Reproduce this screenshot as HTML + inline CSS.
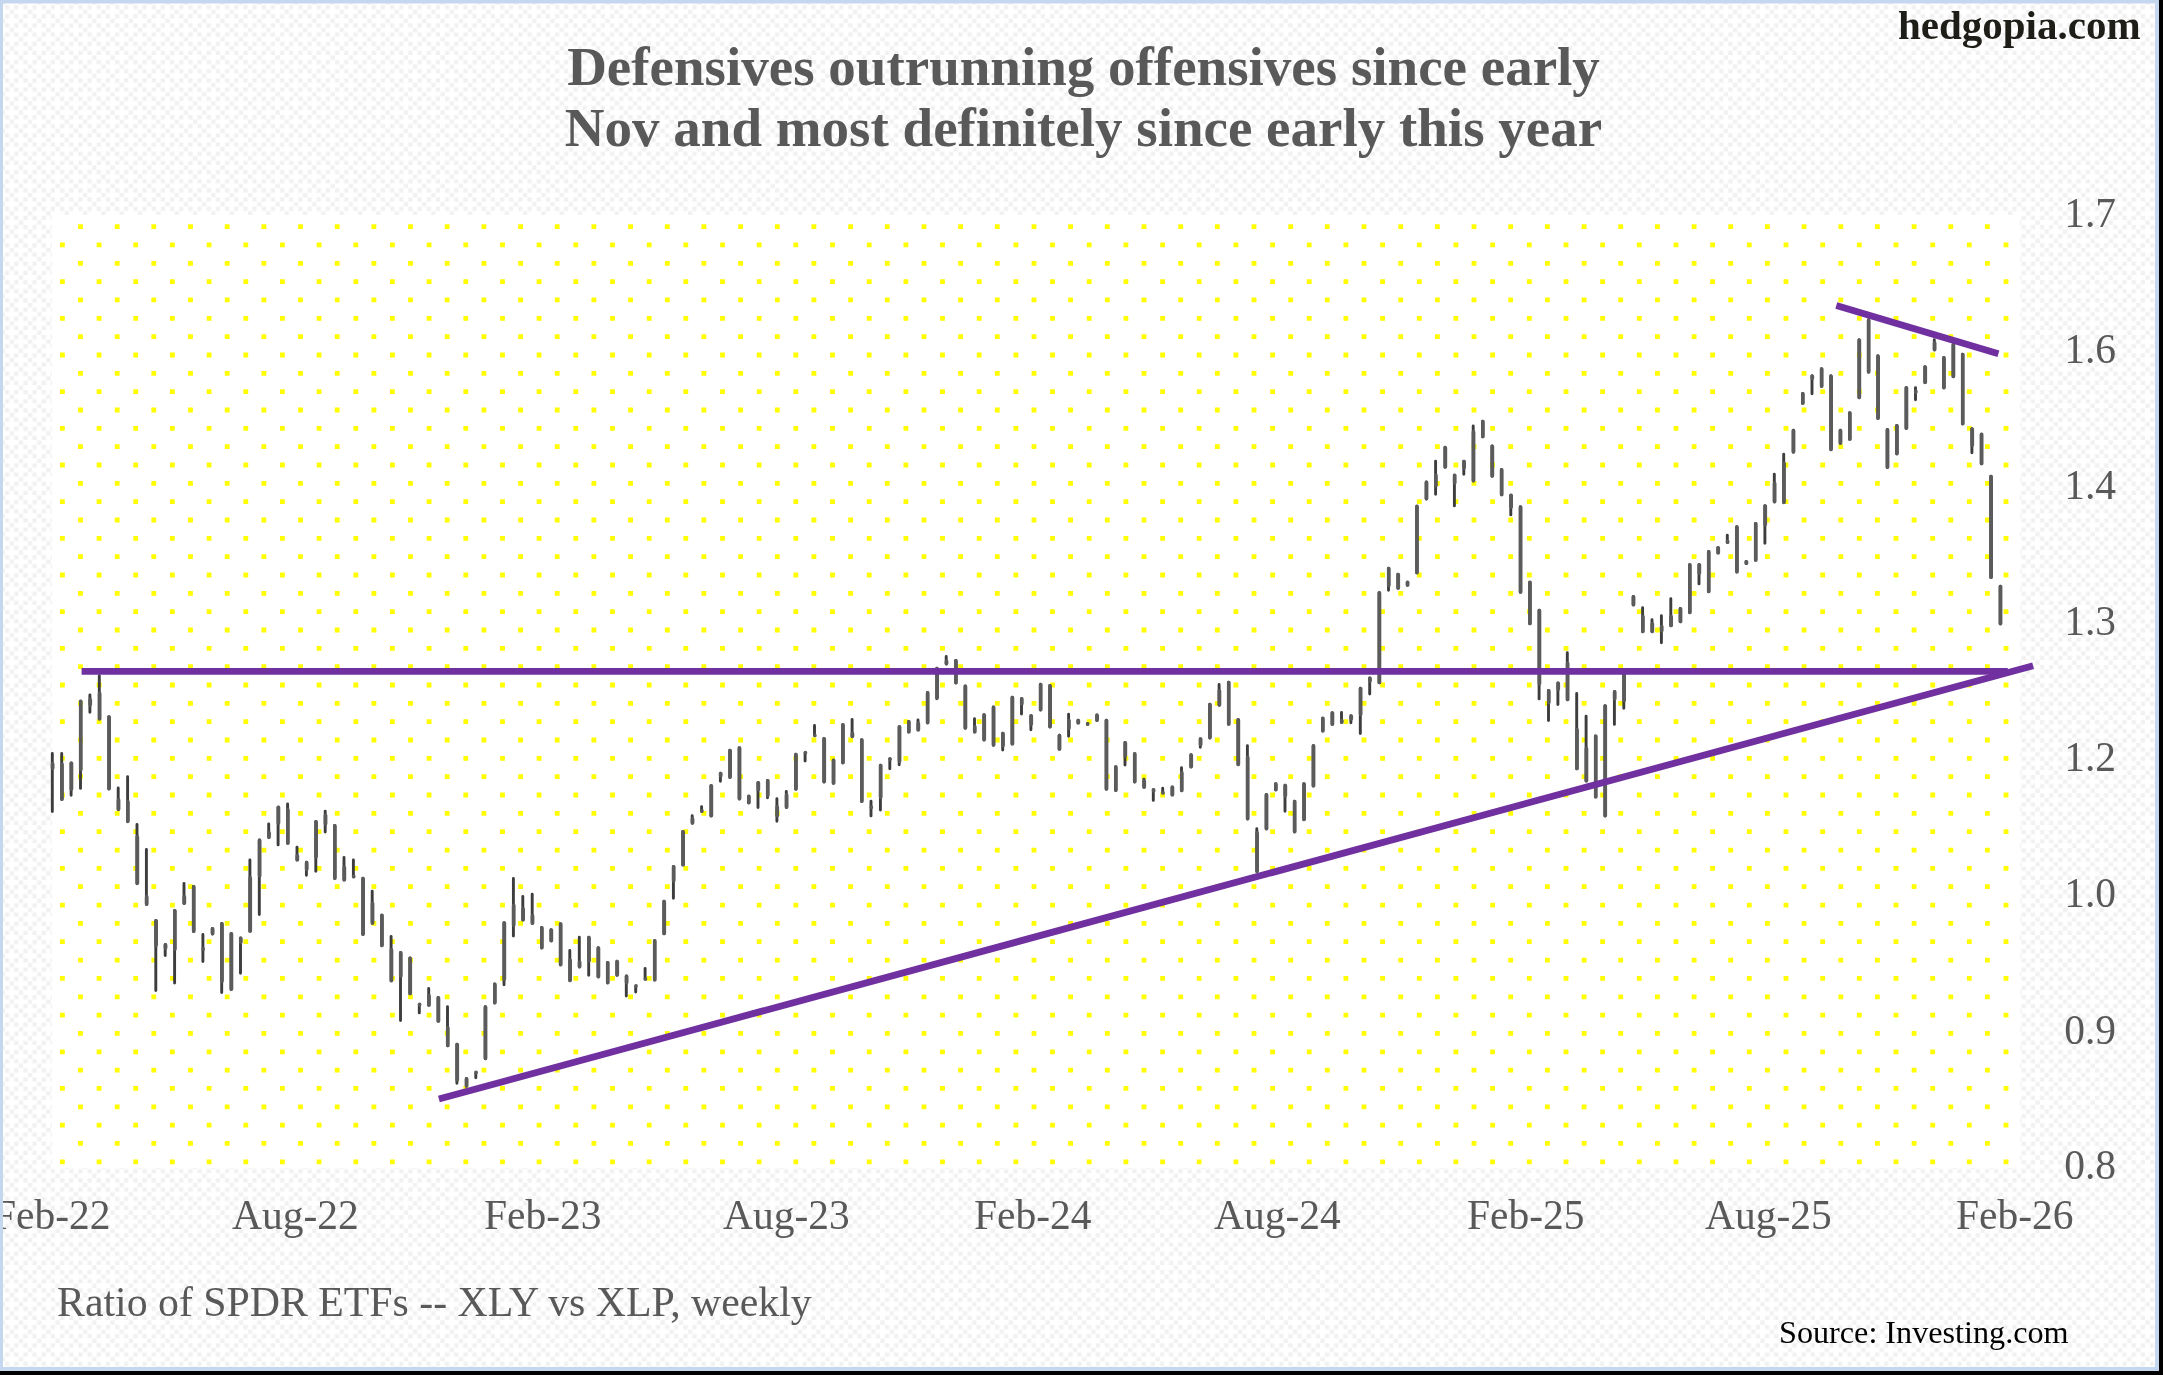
<!DOCTYPE html>
<html><head><meta charset="utf-8"><style>
html,body{margin:0;padding:0;background:#fff;}
svg{display:block;will-change:transform;}
text{font-family:"Liberation Serif",serif;}
</style></head><body>
<svg width="2163" height="1375" viewBox="0 0 2163 1375">
<defs>
<pattern id="chk" patternUnits="userSpaceOnUse" width="18.333" height="18.333">
<rect width="18.333" height="18.333" fill="#fff"/>
<g fill="#f1f1f1">
<rect x="5" y="5" width="4.3" height="4.3"/><rect x="14.17" y="5" width="4.3" height="4.3"/>
<rect x="5" y="14.17" width="4.3" height="4.3"/><rect x="14.17" y="14.17" width="4.3" height="4.3"/>
<rect x="9.58" y="9.58" width="4.3" height="4.3"/><rect x="0.42" y="0.42" width="4.3" height="4.3"/>
</g>
</pattern>
</defs>
<rect width="2163" height="1375" fill="url(#chk)"/>
<rect x="52" y="215" width="1968" height="953" fill="#fff"/>
<path fill="#ffff00" d="M78.1 224.2h4.8v4.8h-4.8zM114.8 224.2h4.8v4.8h-4.8zM151.4 224.2h4.8v4.8h-4.8zM188.1 224.2h4.8v4.8h-4.8zM224.8 224.2h4.8v4.8h-4.8zM261.5 224.2h4.8v4.8h-4.8zM298.1 224.2h4.8v4.8h-4.8zM334.8 224.2h4.8v4.8h-4.8zM371.5 224.2h4.8v4.8h-4.8zM408.1 224.2h4.8v4.8h-4.8zM444.8 224.2h4.8v4.8h-4.8zM481.5 224.2h4.8v4.8h-4.8zM518.2 224.2h4.8v4.8h-4.8zM554.8 224.2h4.8v4.8h-4.8zM591.5 224.2h4.8v4.8h-4.8zM628.2 224.2h4.8v4.8h-4.8zM664.9 224.2h4.8v4.8h-4.8zM701.5 224.2h4.8v4.8h-4.8zM738.2 224.2h4.8v4.8h-4.8zM774.9 224.2h4.8v4.8h-4.8zM811.5 224.2h4.8v4.8h-4.8zM848.2 224.2h4.8v4.8h-4.8zM884.9 224.2h4.8v4.8h-4.8zM921.6 224.2h4.8v4.8h-4.8zM958.2 224.2h4.8v4.8h-4.8zM994.9 224.2h4.8v4.8h-4.8zM1031.6 224.2h4.8v4.8h-4.8zM1068.2 224.2h4.8v4.8h-4.8zM1104.9 224.2h4.8v4.8h-4.8zM1141.6 224.2h4.8v4.8h-4.8zM1178.3 224.2h4.8v4.8h-4.8zM1214.9 224.2h4.8v4.8h-4.8zM1251.6 224.2h4.8v4.8h-4.8zM1288.3 224.2h4.8v4.8h-4.8zM1324.9 224.2h4.8v4.8h-4.8zM1361.6 224.2h4.8v4.8h-4.8zM1398.3 224.2h4.8v4.8h-4.8zM1435.0 224.2h4.8v4.8h-4.8zM1471.6 224.2h4.8v4.8h-4.8zM1508.3 224.2h4.8v4.8h-4.8zM1545.0 224.2h4.8v4.8h-4.8zM1581.7 224.2h4.8v4.8h-4.8zM1618.3 224.2h4.8v4.8h-4.8zM1655.0 224.2h4.8v4.8h-4.8zM1691.7 224.2h4.8v4.8h-4.8zM1728.3 224.2h4.8v4.8h-4.8zM1765.0 224.2h4.8v4.8h-4.8zM1801.7 224.2h4.8v4.8h-4.8zM1838.4 224.2h4.8v4.8h-4.8zM1875.0 224.2h4.8v4.8h-4.8zM1911.7 224.2h4.8v4.8h-4.8zM1948.4 224.2h4.8v4.8h-4.8zM1985.0 224.2h4.8v4.8h-4.8zM60.0 242.5h4.8v4.8h-4.8zM96.7 242.5h4.8v4.8h-4.8zM133.3 242.5h4.8v4.8h-4.8zM170.0 242.5h4.8v4.8h-4.8zM206.7 242.5h4.8v4.8h-4.8zM243.4 242.5h4.8v4.8h-4.8zM280.0 242.5h4.8v4.8h-4.8zM316.7 242.5h4.8v4.8h-4.8zM353.4 242.5h4.8v4.8h-4.8zM390.0 242.5h4.8v4.8h-4.8zM426.7 242.5h4.8v4.8h-4.8zM463.4 242.5h4.8v4.8h-4.8zM500.1 242.5h4.8v4.8h-4.8zM536.7 242.5h4.8v4.8h-4.8zM573.4 242.5h4.8v4.8h-4.8zM610.1 242.5h4.8v4.8h-4.8zM646.8 242.5h4.8v4.8h-4.8zM683.4 242.5h4.8v4.8h-4.8zM720.1 242.5h4.8v4.8h-4.8zM756.8 242.5h4.8v4.8h-4.8zM793.4 242.5h4.8v4.8h-4.8zM830.1 242.5h4.8v4.8h-4.8zM866.8 242.5h4.8v4.8h-4.8zM903.5 242.5h4.8v4.8h-4.8zM940.1 242.5h4.8v4.8h-4.8zM976.8 242.5h4.8v4.8h-4.8zM1013.5 242.5h4.8v4.8h-4.8zM1050.1 242.5h4.8v4.8h-4.8zM1086.8 242.5h4.8v4.8h-4.8zM1123.5 242.5h4.8v4.8h-4.8zM1160.2 242.5h4.8v4.8h-4.8zM1196.8 242.5h4.8v4.8h-4.8zM1233.5 242.5h4.8v4.8h-4.8zM1270.2 242.5h4.8v4.8h-4.8zM1306.8 242.5h4.8v4.8h-4.8zM1343.5 242.5h4.8v4.8h-4.8zM1380.2 242.5h4.8v4.8h-4.8zM1416.9 242.5h4.8v4.8h-4.8zM1453.5 242.5h4.8v4.8h-4.8zM1490.2 242.5h4.8v4.8h-4.8zM1526.9 242.5h4.8v4.8h-4.8zM1563.6 242.5h4.8v4.8h-4.8zM1600.2 242.5h4.8v4.8h-4.8zM1636.9 242.5h4.8v4.8h-4.8zM1673.6 242.5h4.8v4.8h-4.8zM1710.2 242.5h4.8v4.8h-4.8zM1746.9 242.5h4.8v4.8h-4.8zM1783.6 242.5h4.8v4.8h-4.8zM1820.3 242.5h4.8v4.8h-4.8zM1856.9 242.5h4.8v4.8h-4.8zM1893.6 242.5h4.8v4.8h-4.8zM1930.3 242.5h4.8v4.8h-4.8zM1966.9 242.5h4.8v4.8h-4.8zM2003.6 242.5h4.8v4.8h-4.8zM78.1 260.9h4.8v4.8h-4.8zM114.8 260.9h4.8v4.8h-4.8zM151.4 260.9h4.8v4.8h-4.8zM188.1 260.9h4.8v4.8h-4.8zM224.8 260.9h4.8v4.8h-4.8zM261.5 260.9h4.8v4.8h-4.8zM298.1 260.9h4.8v4.8h-4.8zM334.8 260.9h4.8v4.8h-4.8zM371.5 260.9h4.8v4.8h-4.8zM408.1 260.9h4.8v4.8h-4.8zM444.8 260.9h4.8v4.8h-4.8zM481.5 260.9h4.8v4.8h-4.8zM518.2 260.9h4.8v4.8h-4.8zM554.8 260.9h4.8v4.8h-4.8zM591.5 260.9h4.8v4.8h-4.8zM628.2 260.9h4.8v4.8h-4.8zM664.9 260.9h4.8v4.8h-4.8zM701.5 260.9h4.8v4.8h-4.8zM738.2 260.9h4.8v4.8h-4.8zM774.9 260.9h4.8v4.8h-4.8zM811.5 260.9h4.8v4.8h-4.8zM848.2 260.9h4.8v4.8h-4.8zM884.9 260.9h4.8v4.8h-4.8zM921.6 260.9h4.8v4.8h-4.8zM958.2 260.9h4.8v4.8h-4.8zM994.9 260.9h4.8v4.8h-4.8zM1031.6 260.9h4.8v4.8h-4.8zM1068.2 260.9h4.8v4.8h-4.8zM1104.9 260.9h4.8v4.8h-4.8zM1141.6 260.9h4.8v4.8h-4.8zM1178.3 260.9h4.8v4.8h-4.8zM1214.9 260.9h4.8v4.8h-4.8zM1251.6 260.9h4.8v4.8h-4.8zM1288.3 260.9h4.8v4.8h-4.8zM1324.9 260.9h4.8v4.8h-4.8zM1361.6 260.9h4.8v4.8h-4.8zM1398.3 260.9h4.8v4.8h-4.8zM1435.0 260.9h4.8v4.8h-4.8zM1471.6 260.9h4.8v4.8h-4.8zM1508.3 260.9h4.8v4.8h-4.8zM1545.0 260.9h4.8v4.8h-4.8zM1581.7 260.9h4.8v4.8h-4.8zM1618.3 260.9h4.8v4.8h-4.8zM1655.0 260.9h4.8v4.8h-4.8zM1691.7 260.9h4.8v4.8h-4.8zM1728.3 260.9h4.8v4.8h-4.8zM1765.0 260.9h4.8v4.8h-4.8zM1801.7 260.9h4.8v4.8h-4.8zM1838.4 260.9h4.8v4.8h-4.8zM1875.0 260.9h4.8v4.8h-4.8zM1911.7 260.9h4.8v4.8h-4.8zM1948.4 260.9h4.8v4.8h-4.8zM1985.0 260.9h4.8v4.8h-4.8zM60.0 279.2h4.8v4.8h-4.8zM96.7 279.2h4.8v4.8h-4.8zM133.3 279.2h4.8v4.8h-4.8zM170.0 279.2h4.8v4.8h-4.8zM206.7 279.2h4.8v4.8h-4.8zM243.4 279.2h4.8v4.8h-4.8zM280.0 279.2h4.8v4.8h-4.8zM316.7 279.2h4.8v4.8h-4.8zM353.4 279.2h4.8v4.8h-4.8zM390.0 279.2h4.8v4.8h-4.8zM426.7 279.2h4.8v4.8h-4.8zM463.4 279.2h4.8v4.8h-4.8zM500.1 279.2h4.8v4.8h-4.8zM536.7 279.2h4.8v4.8h-4.8zM573.4 279.2h4.8v4.8h-4.8zM610.1 279.2h4.8v4.8h-4.8zM646.8 279.2h4.8v4.8h-4.8zM683.4 279.2h4.8v4.8h-4.8zM720.1 279.2h4.8v4.8h-4.8zM756.8 279.2h4.8v4.8h-4.8zM793.4 279.2h4.8v4.8h-4.8zM830.1 279.2h4.8v4.8h-4.8zM866.8 279.2h4.8v4.8h-4.8zM903.5 279.2h4.8v4.8h-4.8zM940.1 279.2h4.8v4.8h-4.8zM976.8 279.2h4.8v4.8h-4.8zM1013.5 279.2h4.8v4.8h-4.8zM1050.1 279.2h4.8v4.8h-4.8zM1086.8 279.2h4.8v4.8h-4.8zM1123.5 279.2h4.8v4.8h-4.8zM1160.2 279.2h4.8v4.8h-4.8zM1196.8 279.2h4.8v4.8h-4.8zM1233.5 279.2h4.8v4.8h-4.8zM1270.2 279.2h4.8v4.8h-4.8zM1306.8 279.2h4.8v4.8h-4.8zM1343.5 279.2h4.8v4.8h-4.8zM1380.2 279.2h4.8v4.8h-4.8zM1416.9 279.2h4.8v4.8h-4.8zM1453.5 279.2h4.8v4.8h-4.8zM1490.2 279.2h4.8v4.8h-4.8zM1526.9 279.2h4.8v4.8h-4.8zM1563.6 279.2h4.8v4.8h-4.8zM1600.2 279.2h4.8v4.8h-4.8zM1636.9 279.2h4.8v4.8h-4.8zM1673.6 279.2h4.8v4.8h-4.8zM1710.2 279.2h4.8v4.8h-4.8zM1746.9 279.2h4.8v4.8h-4.8zM1783.6 279.2h4.8v4.8h-4.8zM1820.3 279.2h4.8v4.8h-4.8zM1856.9 279.2h4.8v4.8h-4.8zM1893.6 279.2h4.8v4.8h-4.8zM1930.3 279.2h4.8v4.8h-4.8zM1966.9 279.2h4.8v4.8h-4.8zM2003.6 279.2h4.8v4.8h-4.8zM78.1 297.5h4.8v4.8h-4.8zM114.8 297.5h4.8v4.8h-4.8zM151.4 297.5h4.8v4.8h-4.8zM188.1 297.5h4.8v4.8h-4.8zM224.8 297.5h4.8v4.8h-4.8zM261.5 297.5h4.8v4.8h-4.8zM298.1 297.5h4.8v4.8h-4.8zM334.8 297.5h4.8v4.8h-4.8zM371.5 297.5h4.8v4.8h-4.8zM408.1 297.5h4.8v4.8h-4.8zM444.8 297.5h4.8v4.8h-4.8zM481.5 297.5h4.8v4.8h-4.8zM518.2 297.5h4.8v4.8h-4.8zM554.8 297.5h4.8v4.8h-4.8zM591.5 297.5h4.8v4.8h-4.8zM628.2 297.5h4.8v4.8h-4.8zM664.9 297.5h4.8v4.8h-4.8zM701.5 297.5h4.8v4.8h-4.8zM738.2 297.5h4.8v4.8h-4.8zM774.9 297.5h4.8v4.8h-4.8zM811.5 297.5h4.8v4.8h-4.8zM848.2 297.5h4.8v4.8h-4.8zM884.9 297.5h4.8v4.8h-4.8zM921.6 297.5h4.8v4.8h-4.8zM958.2 297.5h4.8v4.8h-4.8zM994.9 297.5h4.8v4.8h-4.8zM1031.6 297.5h4.8v4.8h-4.8zM1068.2 297.5h4.8v4.8h-4.8zM1104.9 297.5h4.8v4.8h-4.8zM1141.6 297.5h4.8v4.8h-4.8zM1178.3 297.5h4.8v4.8h-4.8zM1214.9 297.5h4.8v4.8h-4.8zM1251.6 297.5h4.8v4.8h-4.8zM1288.3 297.5h4.8v4.8h-4.8zM1324.9 297.5h4.8v4.8h-4.8zM1361.6 297.5h4.8v4.8h-4.8zM1398.3 297.5h4.8v4.8h-4.8zM1435.0 297.5h4.8v4.8h-4.8zM1471.6 297.5h4.8v4.8h-4.8zM1508.3 297.5h4.8v4.8h-4.8zM1545.0 297.5h4.8v4.8h-4.8zM1581.7 297.5h4.8v4.8h-4.8zM1618.3 297.5h4.8v4.8h-4.8zM1655.0 297.5h4.8v4.8h-4.8zM1691.7 297.5h4.8v4.8h-4.8zM1728.3 297.5h4.8v4.8h-4.8zM1765.0 297.5h4.8v4.8h-4.8zM1801.7 297.5h4.8v4.8h-4.8zM1838.4 297.5h4.8v4.8h-4.8zM1875.0 297.5h4.8v4.8h-4.8zM1911.7 297.5h4.8v4.8h-4.8zM1948.4 297.5h4.8v4.8h-4.8zM1985.0 297.5h4.8v4.8h-4.8zM60.0 315.9h4.8v4.8h-4.8zM96.7 315.9h4.8v4.8h-4.8zM133.3 315.9h4.8v4.8h-4.8zM170.0 315.9h4.8v4.8h-4.8zM206.7 315.9h4.8v4.8h-4.8zM243.4 315.9h4.8v4.8h-4.8zM280.0 315.9h4.8v4.8h-4.8zM316.7 315.9h4.8v4.8h-4.8zM353.4 315.9h4.8v4.8h-4.8zM390.0 315.9h4.8v4.8h-4.8zM426.7 315.9h4.8v4.8h-4.8zM463.4 315.9h4.8v4.8h-4.8zM500.1 315.9h4.8v4.8h-4.8zM536.7 315.9h4.8v4.8h-4.8zM573.4 315.9h4.8v4.8h-4.8zM610.1 315.9h4.8v4.8h-4.8zM646.8 315.9h4.8v4.8h-4.8zM683.4 315.9h4.8v4.8h-4.8zM720.1 315.9h4.8v4.8h-4.8zM756.8 315.9h4.8v4.8h-4.8zM793.4 315.9h4.8v4.8h-4.8zM830.1 315.9h4.8v4.8h-4.8zM866.8 315.9h4.8v4.8h-4.8zM903.5 315.9h4.8v4.8h-4.8zM940.1 315.9h4.8v4.8h-4.8zM976.8 315.9h4.8v4.8h-4.8zM1013.5 315.9h4.8v4.8h-4.8zM1050.1 315.9h4.8v4.8h-4.8zM1086.8 315.9h4.8v4.8h-4.8zM1123.5 315.9h4.8v4.8h-4.8zM1160.2 315.9h4.8v4.8h-4.8zM1196.8 315.9h4.8v4.8h-4.8zM1233.5 315.9h4.8v4.8h-4.8zM1270.2 315.9h4.8v4.8h-4.8zM1306.8 315.9h4.8v4.8h-4.8zM1343.5 315.9h4.8v4.8h-4.8zM1380.2 315.9h4.8v4.8h-4.8zM1416.9 315.9h4.8v4.8h-4.8zM1453.5 315.9h4.8v4.8h-4.8zM1490.2 315.9h4.8v4.8h-4.8zM1526.9 315.9h4.8v4.8h-4.8zM1563.6 315.9h4.8v4.8h-4.8zM1600.2 315.9h4.8v4.8h-4.8zM1636.9 315.9h4.8v4.8h-4.8zM1673.6 315.9h4.8v4.8h-4.8zM1710.2 315.9h4.8v4.8h-4.8zM1746.9 315.9h4.8v4.8h-4.8zM1783.6 315.9h4.8v4.8h-4.8zM1820.3 315.9h4.8v4.8h-4.8zM1856.9 315.9h4.8v4.8h-4.8zM1893.6 315.9h4.8v4.8h-4.8zM1930.3 315.9h4.8v4.8h-4.8zM1966.9 315.9h4.8v4.8h-4.8zM2003.6 315.9h4.8v4.8h-4.8zM78.1 334.2h4.8v4.8h-4.8zM114.8 334.2h4.8v4.8h-4.8zM151.4 334.2h4.8v4.8h-4.8zM188.1 334.2h4.8v4.8h-4.8zM224.8 334.2h4.8v4.8h-4.8zM261.5 334.2h4.8v4.8h-4.8zM298.1 334.2h4.8v4.8h-4.8zM334.8 334.2h4.8v4.8h-4.8zM371.5 334.2h4.8v4.8h-4.8zM408.1 334.2h4.8v4.8h-4.8zM444.8 334.2h4.8v4.8h-4.8zM481.5 334.2h4.8v4.8h-4.8zM518.2 334.2h4.8v4.8h-4.8zM554.8 334.2h4.8v4.8h-4.8zM591.5 334.2h4.8v4.8h-4.8zM628.2 334.2h4.8v4.8h-4.8zM664.9 334.2h4.8v4.8h-4.8zM701.5 334.2h4.8v4.8h-4.8zM738.2 334.2h4.8v4.8h-4.8zM774.9 334.2h4.8v4.8h-4.8zM811.5 334.2h4.8v4.8h-4.8zM848.2 334.2h4.8v4.8h-4.8zM884.9 334.2h4.8v4.8h-4.8zM921.6 334.2h4.8v4.8h-4.8zM958.2 334.2h4.8v4.8h-4.8zM994.9 334.2h4.8v4.8h-4.8zM1031.6 334.2h4.8v4.8h-4.8zM1068.2 334.2h4.8v4.8h-4.8zM1104.9 334.2h4.8v4.8h-4.8zM1141.6 334.2h4.8v4.8h-4.8zM1178.3 334.2h4.8v4.8h-4.8zM1214.9 334.2h4.8v4.8h-4.8zM1251.6 334.2h4.8v4.8h-4.8zM1288.3 334.2h4.8v4.8h-4.8zM1324.9 334.2h4.8v4.8h-4.8zM1361.6 334.2h4.8v4.8h-4.8zM1398.3 334.2h4.8v4.8h-4.8zM1435.0 334.2h4.8v4.8h-4.8zM1471.6 334.2h4.8v4.8h-4.8zM1508.3 334.2h4.8v4.8h-4.8zM1545.0 334.2h4.8v4.8h-4.8zM1581.7 334.2h4.8v4.8h-4.8zM1618.3 334.2h4.8v4.8h-4.8zM1655.0 334.2h4.8v4.8h-4.8zM1691.7 334.2h4.8v4.8h-4.8zM1728.3 334.2h4.8v4.8h-4.8zM1765.0 334.2h4.8v4.8h-4.8zM1801.7 334.2h4.8v4.8h-4.8zM1838.4 334.2h4.8v4.8h-4.8zM1875.0 334.2h4.8v4.8h-4.8zM1911.7 334.2h4.8v4.8h-4.8zM1948.4 334.2h4.8v4.8h-4.8zM1985.0 334.2h4.8v4.8h-4.8zM60.0 352.6h4.8v4.8h-4.8zM96.7 352.6h4.8v4.8h-4.8zM133.3 352.6h4.8v4.8h-4.8zM170.0 352.6h4.8v4.8h-4.8zM206.7 352.6h4.8v4.8h-4.8zM243.4 352.6h4.8v4.8h-4.8zM280.0 352.6h4.8v4.8h-4.8zM316.7 352.6h4.8v4.8h-4.8zM353.4 352.6h4.8v4.8h-4.8zM390.0 352.6h4.8v4.8h-4.8zM426.7 352.6h4.8v4.8h-4.8zM463.4 352.6h4.8v4.8h-4.8zM500.1 352.6h4.8v4.8h-4.8zM536.7 352.6h4.8v4.8h-4.8zM573.4 352.6h4.8v4.8h-4.8zM610.1 352.6h4.8v4.8h-4.8zM646.8 352.6h4.8v4.8h-4.8zM683.4 352.6h4.8v4.8h-4.8zM720.1 352.6h4.8v4.8h-4.8zM756.8 352.6h4.8v4.8h-4.8zM793.4 352.6h4.8v4.8h-4.8zM830.1 352.6h4.8v4.8h-4.8zM866.8 352.6h4.8v4.8h-4.8zM903.5 352.6h4.8v4.8h-4.8zM940.1 352.6h4.8v4.8h-4.8zM976.8 352.6h4.8v4.8h-4.8zM1013.5 352.6h4.8v4.8h-4.8zM1050.1 352.6h4.8v4.8h-4.8zM1086.8 352.6h4.8v4.8h-4.8zM1123.5 352.6h4.8v4.8h-4.8zM1160.2 352.6h4.8v4.8h-4.8zM1196.8 352.6h4.8v4.8h-4.8zM1233.5 352.6h4.8v4.8h-4.8zM1270.2 352.6h4.8v4.8h-4.8zM1306.8 352.6h4.8v4.8h-4.8zM1343.5 352.6h4.8v4.8h-4.8zM1380.2 352.6h4.8v4.8h-4.8zM1416.9 352.6h4.8v4.8h-4.8zM1453.5 352.6h4.8v4.8h-4.8zM1490.2 352.6h4.8v4.8h-4.8zM1526.9 352.6h4.8v4.8h-4.8zM1563.6 352.6h4.8v4.8h-4.8zM1600.2 352.6h4.8v4.8h-4.8zM1636.9 352.6h4.8v4.8h-4.8zM1673.6 352.6h4.8v4.8h-4.8zM1710.2 352.6h4.8v4.8h-4.8zM1746.9 352.6h4.8v4.8h-4.8zM1783.6 352.6h4.8v4.8h-4.8zM1820.3 352.6h4.8v4.8h-4.8zM1856.9 352.6h4.8v4.8h-4.8zM1893.6 352.6h4.8v4.8h-4.8zM1930.3 352.6h4.8v4.8h-4.8zM1966.9 352.6h4.8v4.8h-4.8zM2003.6 352.6h4.8v4.8h-4.8zM78.1 370.9h4.8v4.8h-4.8zM114.8 370.9h4.8v4.8h-4.8zM151.4 370.9h4.8v4.8h-4.8zM188.1 370.9h4.8v4.8h-4.8zM224.8 370.9h4.8v4.8h-4.8zM261.5 370.9h4.8v4.8h-4.8zM298.1 370.9h4.8v4.8h-4.8zM334.8 370.9h4.8v4.8h-4.8zM371.5 370.9h4.8v4.8h-4.8zM408.1 370.9h4.8v4.8h-4.8zM444.8 370.9h4.8v4.8h-4.8zM481.5 370.9h4.8v4.8h-4.8zM518.2 370.9h4.8v4.8h-4.8zM554.8 370.9h4.8v4.8h-4.8zM591.5 370.9h4.8v4.8h-4.8zM628.2 370.9h4.8v4.8h-4.8zM664.9 370.9h4.8v4.8h-4.8zM701.5 370.9h4.8v4.8h-4.8zM738.2 370.9h4.8v4.8h-4.8zM774.9 370.9h4.8v4.8h-4.8zM811.5 370.9h4.8v4.8h-4.8zM848.2 370.9h4.8v4.8h-4.8zM884.9 370.9h4.8v4.8h-4.8zM921.6 370.9h4.8v4.8h-4.8zM958.2 370.9h4.8v4.8h-4.8zM994.9 370.9h4.8v4.8h-4.8zM1031.6 370.9h4.8v4.8h-4.8zM1068.2 370.9h4.8v4.8h-4.8zM1104.9 370.9h4.8v4.8h-4.8zM1141.6 370.9h4.8v4.8h-4.8zM1178.3 370.9h4.8v4.8h-4.8zM1214.9 370.9h4.8v4.8h-4.8zM1251.6 370.9h4.8v4.8h-4.8zM1288.3 370.9h4.8v4.8h-4.8zM1324.9 370.9h4.8v4.8h-4.8zM1361.6 370.9h4.8v4.8h-4.8zM1398.3 370.9h4.8v4.8h-4.8zM1435.0 370.9h4.8v4.8h-4.8zM1471.6 370.9h4.8v4.8h-4.8zM1508.3 370.9h4.8v4.8h-4.8zM1545.0 370.9h4.8v4.8h-4.8zM1581.7 370.9h4.8v4.8h-4.8zM1618.3 370.9h4.8v4.8h-4.8zM1655.0 370.9h4.8v4.8h-4.8zM1691.7 370.9h4.8v4.8h-4.8zM1728.3 370.9h4.8v4.8h-4.8zM1765.0 370.9h4.8v4.8h-4.8zM1801.7 370.9h4.8v4.8h-4.8zM1838.4 370.9h4.8v4.8h-4.8zM1875.0 370.9h4.8v4.8h-4.8zM1911.7 370.9h4.8v4.8h-4.8zM1948.4 370.9h4.8v4.8h-4.8zM1985.0 370.9h4.8v4.8h-4.8zM60.0 389.2h4.8v4.8h-4.8zM96.7 389.2h4.8v4.8h-4.8zM133.3 389.2h4.8v4.8h-4.8zM170.0 389.2h4.8v4.8h-4.8zM206.7 389.2h4.8v4.8h-4.8zM243.4 389.2h4.8v4.8h-4.8zM280.0 389.2h4.8v4.8h-4.8zM316.7 389.2h4.8v4.8h-4.8zM353.4 389.2h4.8v4.8h-4.8zM390.0 389.2h4.8v4.8h-4.8zM426.7 389.2h4.8v4.8h-4.8zM463.4 389.2h4.8v4.8h-4.8zM500.1 389.2h4.8v4.8h-4.8zM536.7 389.2h4.8v4.8h-4.8zM573.4 389.2h4.8v4.8h-4.8zM610.1 389.2h4.8v4.8h-4.8zM646.8 389.2h4.8v4.8h-4.8zM683.4 389.2h4.8v4.8h-4.8zM720.1 389.2h4.8v4.8h-4.8zM756.8 389.2h4.8v4.8h-4.8zM793.4 389.2h4.8v4.8h-4.8zM830.1 389.2h4.8v4.8h-4.8zM866.8 389.2h4.8v4.8h-4.8zM903.5 389.2h4.8v4.8h-4.8zM940.1 389.2h4.8v4.8h-4.8zM976.8 389.2h4.8v4.8h-4.8zM1013.5 389.2h4.8v4.8h-4.8zM1050.1 389.2h4.8v4.8h-4.8zM1086.8 389.2h4.8v4.8h-4.8zM1123.5 389.2h4.8v4.8h-4.8zM1160.2 389.2h4.8v4.8h-4.8zM1196.8 389.2h4.8v4.8h-4.8zM1233.5 389.2h4.8v4.8h-4.8zM1270.2 389.2h4.8v4.8h-4.8zM1306.8 389.2h4.8v4.8h-4.8zM1343.5 389.2h4.8v4.8h-4.8zM1380.2 389.2h4.8v4.8h-4.8zM1416.9 389.2h4.8v4.8h-4.8zM1453.5 389.2h4.8v4.8h-4.8zM1490.2 389.2h4.8v4.8h-4.8zM1526.9 389.2h4.8v4.8h-4.8zM1563.6 389.2h4.8v4.8h-4.8zM1600.2 389.2h4.8v4.8h-4.8zM1636.9 389.2h4.8v4.8h-4.8zM1673.6 389.2h4.8v4.8h-4.8zM1710.2 389.2h4.8v4.8h-4.8zM1746.9 389.2h4.8v4.8h-4.8zM1783.6 389.2h4.8v4.8h-4.8zM1820.3 389.2h4.8v4.8h-4.8zM1856.9 389.2h4.8v4.8h-4.8zM1893.6 389.2h4.8v4.8h-4.8zM1930.3 389.2h4.8v4.8h-4.8zM1966.9 389.2h4.8v4.8h-4.8zM2003.6 389.2h4.8v4.8h-4.8zM78.1 407.6h4.8v4.8h-4.8zM114.8 407.6h4.8v4.8h-4.8zM151.4 407.6h4.8v4.8h-4.8zM188.1 407.6h4.8v4.8h-4.8zM224.8 407.6h4.8v4.8h-4.8zM261.5 407.6h4.8v4.8h-4.8zM298.1 407.6h4.8v4.8h-4.8zM334.8 407.6h4.8v4.8h-4.8zM371.5 407.6h4.8v4.8h-4.8zM408.1 407.6h4.8v4.8h-4.8zM444.8 407.6h4.8v4.8h-4.8zM481.5 407.6h4.8v4.8h-4.8zM518.2 407.6h4.8v4.8h-4.8zM554.8 407.6h4.8v4.8h-4.8zM591.5 407.6h4.8v4.8h-4.8zM628.2 407.6h4.8v4.8h-4.8zM664.9 407.6h4.8v4.8h-4.8zM701.5 407.6h4.8v4.8h-4.8zM738.2 407.6h4.8v4.8h-4.8zM774.9 407.6h4.8v4.8h-4.8zM811.5 407.6h4.8v4.8h-4.8zM848.2 407.6h4.8v4.8h-4.8zM884.9 407.6h4.8v4.8h-4.8zM921.6 407.6h4.8v4.8h-4.8zM958.2 407.6h4.8v4.8h-4.8zM994.9 407.6h4.8v4.8h-4.8zM1031.6 407.6h4.8v4.8h-4.8zM1068.2 407.6h4.8v4.8h-4.8zM1104.9 407.6h4.8v4.8h-4.8zM1141.6 407.6h4.8v4.8h-4.8zM1178.3 407.6h4.8v4.8h-4.8zM1214.9 407.6h4.8v4.8h-4.8zM1251.6 407.6h4.8v4.8h-4.8zM1288.3 407.6h4.8v4.8h-4.8zM1324.9 407.6h4.8v4.8h-4.8zM1361.6 407.6h4.8v4.8h-4.8zM1398.3 407.6h4.8v4.8h-4.8zM1435.0 407.6h4.8v4.8h-4.8zM1471.6 407.6h4.8v4.8h-4.8zM1508.3 407.6h4.8v4.8h-4.8zM1545.0 407.6h4.8v4.8h-4.8zM1581.7 407.6h4.8v4.8h-4.8zM1618.3 407.6h4.8v4.8h-4.8zM1655.0 407.6h4.8v4.8h-4.8zM1691.7 407.6h4.8v4.8h-4.8zM1728.3 407.6h4.8v4.8h-4.8zM1765.0 407.6h4.8v4.8h-4.8zM1801.7 407.6h4.8v4.8h-4.8zM1838.4 407.6h4.8v4.8h-4.8zM1875.0 407.6h4.8v4.8h-4.8zM1911.7 407.6h4.8v4.8h-4.8zM1948.4 407.6h4.8v4.8h-4.8zM1985.0 407.6h4.8v4.8h-4.8zM60.0 425.9h4.8v4.8h-4.8zM96.7 425.9h4.8v4.8h-4.8zM133.3 425.9h4.8v4.8h-4.8zM170.0 425.9h4.8v4.8h-4.8zM206.7 425.9h4.8v4.8h-4.8zM243.4 425.9h4.8v4.8h-4.8zM280.0 425.9h4.8v4.8h-4.8zM316.7 425.9h4.8v4.8h-4.8zM353.4 425.9h4.8v4.8h-4.8zM390.0 425.9h4.8v4.8h-4.8zM426.7 425.9h4.8v4.8h-4.8zM463.4 425.9h4.8v4.8h-4.8zM500.1 425.9h4.8v4.8h-4.8zM536.7 425.9h4.8v4.8h-4.8zM573.4 425.9h4.8v4.8h-4.8zM610.1 425.9h4.8v4.8h-4.8zM646.8 425.9h4.8v4.8h-4.8zM683.4 425.9h4.8v4.8h-4.8zM720.1 425.9h4.8v4.8h-4.8zM756.8 425.9h4.8v4.8h-4.8zM793.4 425.9h4.8v4.8h-4.8zM830.1 425.9h4.8v4.8h-4.8zM866.8 425.9h4.8v4.8h-4.8zM903.5 425.9h4.8v4.8h-4.8zM940.1 425.9h4.8v4.8h-4.8zM976.8 425.9h4.8v4.8h-4.8zM1013.5 425.9h4.8v4.8h-4.8zM1050.1 425.9h4.8v4.8h-4.8zM1086.8 425.9h4.8v4.8h-4.8zM1123.5 425.9h4.8v4.8h-4.8zM1160.2 425.9h4.8v4.8h-4.8zM1196.8 425.9h4.8v4.8h-4.8zM1233.5 425.9h4.8v4.8h-4.8zM1270.2 425.9h4.8v4.8h-4.8zM1306.8 425.9h4.8v4.8h-4.8zM1343.5 425.9h4.8v4.8h-4.8zM1380.2 425.9h4.8v4.8h-4.8zM1416.9 425.9h4.8v4.8h-4.8zM1453.5 425.9h4.8v4.8h-4.8zM1490.2 425.9h4.8v4.8h-4.8zM1526.9 425.9h4.8v4.8h-4.8zM1563.6 425.9h4.8v4.8h-4.8zM1600.2 425.9h4.8v4.8h-4.8zM1636.9 425.9h4.8v4.8h-4.8zM1673.6 425.9h4.8v4.8h-4.8zM1710.2 425.9h4.8v4.8h-4.8zM1746.9 425.9h4.8v4.8h-4.8zM1783.6 425.9h4.8v4.8h-4.8zM1820.3 425.9h4.8v4.8h-4.8zM1856.9 425.9h4.8v4.8h-4.8zM1893.6 425.9h4.8v4.8h-4.8zM1930.3 425.9h4.8v4.8h-4.8zM1966.9 425.9h4.8v4.8h-4.8zM2003.6 425.9h4.8v4.8h-4.8zM78.1 444.2h4.8v4.8h-4.8zM114.8 444.2h4.8v4.8h-4.8zM151.4 444.2h4.8v4.8h-4.8zM188.1 444.2h4.8v4.8h-4.8zM224.8 444.2h4.8v4.8h-4.8zM261.5 444.2h4.8v4.8h-4.8zM298.1 444.2h4.8v4.8h-4.8zM334.8 444.2h4.8v4.8h-4.8zM371.5 444.2h4.8v4.8h-4.8zM408.1 444.2h4.8v4.8h-4.8zM444.8 444.2h4.8v4.8h-4.8zM481.5 444.2h4.8v4.8h-4.8zM518.2 444.2h4.8v4.8h-4.8zM554.8 444.2h4.8v4.8h-4.8zM591.5 444.2h4.8v4.8h-4.8zM628.2 444.2h4.8v4.8h-4.8zM664.9 444.2h4.8v4.8h-4.8zM701.5 444.2h4.8v4.8h-4.8zM738.2 444.2h4.8v4.8h-4.8zM774.9 444.2h4.8v4.8h-4.8zM811.5 444.2h4.8v4.8h-4.8zM848.2 444.2h4.8v4.8h-4.8zM884.9 444.2h4.8v4.8h-4.8zM921.6 444.2h4.8v4.8h-4.8zM958.2 444.2h4.8v4.8h-4.8zM994.9 444.2h4.8v4.8h-4.8zM1031.6 444.2h4.8v4.8h-4.8zM1068.2 444.2h4.8v4.8h-4.8zM1104.9 444.2h4.8v4.8h-4.8zM1141.6 444.2h4.8v4.8h-4.8zM1178.3 444.2h4.8v4.8h-4.8zM1214.9 444.2h4.8v4.8h-4.8zM1251.6 444.2h4.8v4.8h-4.8zM1288.3 444.2h4.8v4.8h-4.8zM1324.9 444.2h4.8v4.8h-4.8zM1361.6 444.2h4.8v4.8h-4.8zM1398.3 444.2h4.8v4.8h-4.8zM1435.0 444.2h4.8v4.8h-4.8zM1471.6 444.2h4.8v4.8h-4.8zM1508.3 444.2h4.8v4.8h-4.8zM1545.0 444.2h4.8v4.8h-4.8zM1581.7 444.2h4.8v4.8h-4.8zM1618.3 444.2h4.8v4.8h-4.8zM1655.0 444.2h4.8v4.8h-4.8zM1691.7 444.2h4.8v4.8h-4.8zM1728.3 444.2h4.8v4.8h-4.8zM1765.0 444.2h4.8v4.8h-4.8zM1801.7 444.2h4.8v4.8h-4.8zM1838.4 444.2h4.8v4.8h-4.8zM1875.0 444.2h4.8v4.8h-4.8zM1911.7 444.2h4.8v4.8h-4.8zM1948.4 444.2h4.8v4.8h-4.8zM1985.0 444.2h4.8v4.8h-4.8zM60.0 462.6h4.8v4.8h-4.8zM96.7 462.6h4.8v4.8h-4.8zM133.3 462.6h4.8v4.8h-4.8zM170.0 462.6h4.8v4.8h-4.8zM206.7 462.6h4.8v4.8h-4.8zM243.4 462.6h4.8v4.8h-4.8zM280.0 462.6h4.8v4.8h-4.8zM316.7 462.6h4.8v4.8h-4.8zM353.4 462.6h4.8v4.8h-4.8zM390.0 462.6h4.8v4.8h-4.8zM426.7 462.6h4.8v4.8h-4.8zM463.4 462.6h4.8v4.8h-4.8zM500.1 462.6h4.8v4.8h-4.8zM536.7 462.6h4.8v4.8h-4.8zM573.4 462.6h4.8v4.8h-4.8zM610.1 462.6h4.8v4.8h-4.8zM646.8 462.6h4.8v4.8h-4.8zM683.4 462.6h4.8v4.8h-4.8zM720.1 462.6h4.8v4.8h-4.8zM756.8 462.6h4.8v4.8h-4.8zM793.4 462.6h4.8v4.8h-4.8zM830.1 462.6h4.8v4.8h-4.8zM866.8 462.6h4.8v4.8h-4.8zM903.5 462.6h4.8v4.8h-4.8zM940.1 462.6h4.8v4.8h-4.8zM976.8 462.6h4.8v4.8h-4.8zM1013.5 462.6h4.8v4.8h-4.8zM1050.1 462.6h4.8v4.8h-4.8zM1086.8 462.6h4.8v4.8h-4.8zM1123.5 462.6h4.8v4.8h-4.8zM1160.2 462.6h4.8v4.8h-4.8zM1196.8 462.6h4.8v4.8h-4.8zM1233.5 462.6h4.8v4.8h-4.8zM1270.2 462.6h4.8v4.8h-4.8zM1306.8 462.6h4.8v4.8h-4.8zM1343.5 462.6h4.8v4.8h-4.8zM1380.2 462.6h4.8v4.8h-4.8zM1416.9 462.6h4.8v4.8h-4.8zM1453.5 462.6h4.8v4.8h-4.8zM1490.2 462.6h4.8v4.8h-4.8zM1526.9 462.6h4.8v4.8h-4.8zM1563.6 462.6h4.8v4.8h-4.8zM1600.2 462.6h4.8v4.8h-4.8zM1636.9 462.6h4.8v4.8h-4.8zM1673.6 462.6h4.8v4.8h-4.8zM1710.2 462.6h4.8v4.8h-4.8zM1746.9 462.6h4.8v4.8h-4.8zM1783.6 462.6h4.8v4.8h-4.8zM1820.3 462.6h4.8v4.8h-4.8zM1856.9 462.6h4.8v4.8h-4.8zM1893.6 462.6h4.8v4.8h-4.8zM1930.3 462.6h4.8v4.8h-4.8zM1966.9 462.6h4.8v4.8h-4.8zM2003.6 462.6h4.8v4.8h-4.8zM78.1 480.9h4.8v4.8h-4.8zM114.8 480.9h4.8v4.8h-4.8zM151.4 480.9h4.8v4.8h-4.8zM188.1 480.9h4.8v4.8h-4.8zM224.8 480.9h4.8v4.8h-4.8zM261.5 480.9h4.8v4.8h-4.8zM298.1 480.9h4.8v4.8h-4.8zM334.8 480.9h4.8v4.8h-4.8zM371.5 480.9h4.8v4.8h-4.8zM408.1 480.9h4.8v4.8h-4.8zM444.8 480.9h4.8v4.8h-4.8zM481.5 480.9h4.8v4.8h-4.8zM518.2 480.9h4.8v4.8h-4.8zM554.8 480.9h4.8v4.8h-4.8zM591.5 480.9h4.8v4.8h-4.8zM628.2 480.9h4.8v4.8h-4.8zM664.9 480.9h4.8v4.8h-4.8zM701.5 480.9h4.8v4.8h-4.8zM738.2 480.9h4.8v4.8h-4.8zM774.9 480.9h4.8v4.8h-4.8zM811.5 480.9h4.8v4.8h-4.8zM848.2 480.9h4.8v4.8h-4.8zM884.9 480.9h4.8v4.8h-4.8zM921.6 480.9h4.8v4.8h-4.8zM958.2 480.9h4.8v4.8h-4.8zM994.9 480.9h4.8v4.8h-4.8zM1031.6 480.9h4.8v4.8h-4.8zM1068.2 480.9h4.8v4.8h-4.8zM1104.9 480.9h4.8v4.8h-4.8zM1141.6 480.9h4.8v4.8h-4.8zM1178.3 480.9h4.8v4.8h-4.8zM1214.9 480.9h4.8v4.8h-4.8zM1251.6 480.9h4.8v4.8h-4.8zM1288.3 480.9h4.8v4.8h-4.8zM1324.9 480.9h4.8v4.8h-4.8zM1361.6 480.9h4.8v4.8h-4.8zM1398.3 480.9h4.8v4.8h-4.8zM1435.0 480.9h4.8v4.8h-4.8zM1471.6 480.9h4.8v4.8h-4.8zM1508.3 480.9h4.8v4.8h-4.8zM1545.0 480.9h4.8v4.8h-4.8zM1581.7 480.9h4.8v4.8h-4.8zM1618.3 480.9h4.8v4.8h-4.8zM1655.0 480.9h4.8v4.8h-4.8zM1691.7 480.9h4.8v4.8h-4.8zM1728.3 480.9h4.8v4.8h-4.8zM1765.0 480.9h4.8v4.8h-4.8zM1801.7 480.9h4.8v4.8h-4.8zM1838.4 480.9h4.8v4.8h-4.8zM1875.0 480.9h4.8v4.8h-4.8zM1911.7 480.9h4.8v4.8h-4.8zM1948.4 480.9h4.8v4.8h-4.8zM1985.0 480.9h4.8v4.8h-4.8zM60.0 499.3h4.8v4.8h-4.8zM96.7 499.3h4.8v4.8h-4.8zM133.3 499.3h4.8v4.8h-4.8zM170.0 499.3h4.8v4.8h-4.8zM206.7 499.3h4.8v4.8h-4.8zM243.4 499.3h4.8v4.8h-4.8zM280.0 499.3h4.8v4.8h-4.8zM316.7 499.3h4.8v4.8h-4.8zM353.4 499.3h4.8v4.8h-4.8zM390.0 499.3h4.8v4.8h-4.8zM426.7 499.3h4.8v4.8h-4.8zM463.4 499.3h4.8v4.8h-4.8zM500.1 499.3h4.8v4.8h-4.8zM536.7 499.3h4.8v4.8h-4.8zM573.4 499.3h4.8v4.8h-4.8zM610.1 499.3h4.8v4.8h-4.8zM646.8 499.3h4.8v4.8h-4.8zM683.4 499.3h4.8v4.8h-4.8zM720.1 499.3h4.8v4.8h-4.8zM756.8 499.3h4.8v4.8h-4.8zM793.4 499.3h4.8v4.8h-4.8zM830.1 499.3h4.8v4.8h-4.8zM866.8 499.3h4.8v4.8h-4.8zM903.5 499.3h4.8v4.8h-4.8zM940.1 499.3h4.8v4.8h-4.8zM976.8 499.3h4.8v4.8h-4.8zM1013.5 499.3h4.8v4.8h-4.8zM1050.1 499.3h4.8v4.8h-4.8zM1086.8 499.3h4.8v4.8h-4.8zM1123.5 499.3h4.8v4.8h-4.8zM1160.2 499.3h4.8v4.8h-4.8zM1196.8 499.3h4.8v4.8h-4.8zM1233.5 499.3h4.8v4.8h-4.8zM1270.2 499.3h4.8v4.8h-4.8zM1306.8 499.3h4.8v4.8h-4.8zM1343.5 499.3h4.8v4.8h-4.8zM1380.2 499.3h4.8v4.8h-4.8zM1416.9 499.3h4.8v4.8h-4.8zM1453.5 499.3h4.8v4.8h-4.8zM1490.2 499.3h4.8v4.8h-4.8zM1526.9 499.3h4.8v4.8h-4.8zM1563.6 499.3h4.8v4.8h-4.8zM1600.2 499.3h4.8v4.8h-4.8zM1636.9 499.3h4.8v4.8h-4.8zM1673.6 499.3h4.8v4.8h-4.8zM1710.2 499.3h4.8v4.8h-4.8zM1746.9 499.3h4.8v4.8h-4.8zM1783.6 499.3h4.8v4.8h-4.8zM1820.3 499.3h4.8v4.8h-4.8zM1856.9 499.3h4.8v4.8h-4.8zM1893.6 499.3h4.8v4.8h-4.8zM1930.3 499.3h4.8v4.8h-4.8zM1966.9 499.3h4.8v4.8h-4.8zM2003.6 499.3h4.8v4.8h-4.8zM78.1 517.6h4.8v4.8h-4.8zM114.8 517.6h4.8v4.8h-4.8zM151.4 517.6h4.8v4.8h-4.8zM188.1 517.6h4.8v4.8h-4.8zM224.8 517.6h4.8v4.8h-4.8zM261.5 517.6h4.8v4.8h-4.8zM298.1 517.6h4.8v4.8h-4.8zM334.8 517.6h4.8v4.8h-4.8zM371.5 517.6h4.8v4.8h-4.8zM408.1 517.6h4.8v4.8h-4.8zM444.8 517.6h4.8v4.8h-4.8zM481.5 517.6h4.8v4.8h-4.8zM518.2 517.6h4.8v4.8h-4.8zM554.8 517.6h4.8v4.8h-4.8zM591.5 517.6h4.8v4.8h-4.8zM628.2 517.6h4.8v4.8h-4.8zM664.9 517.6h4.8v4.8h-4.8zM701.5 517.6h4.8v4.8h-4.8zM738.2 517.6h4.8v4.8h-4.8zM774.9 517.6h4.8v4.8h-4.8zM811.5 517.6h4.8v4.8h-4.8zM848.2 517.6h4.8v4.8h-4.8zM884.9 517.6h4.8v4.8h-4.8zM921.6 517.6h4.8v4.8h-4.8zM958.2 517.6h4.8v4.8h-4.8zM994.9 517.6h4.8v4.8h-4.8zM1031.6 517.6h4.8v4.8h-4.8zM1068.2 517.6h4.8v4.8h-4.8zM1104.9 517.6h4.8v4.8h-4.8zM1141.6 517.6h4.8v4.8h-4.8zM1178.3 517.6h4.8v4.8h-4.8zM1214.9 517.6h4.8v4.8h-4.8zM1251.6 517.6h4.8v4.8h-4.8zM1288.3 517.6h4.8v4.8h-4.8zM1324.9 517.6h4.8v4.8h-4.8zM1361.6 517.6h4.8v4.8h-4.8zM1398.3 517.6h4.8v4.8h-4.8zM1435.0 517.6h4.8v4.8h-4.8zM1471.6 517.6h4.8v4.8h-4.8zM1508.3 517.6h4.8v4.8h-4.8zM1545.0 517.6h4.8v4.8h-4.8zM1581.7 517.6h4.8v4.8h-4.8zM1618.3 517.6h4.8v4.8h-4.8zM1655.0 517.6h4.8v4.8h-4.8zM1691.7 517.6h4.8v4.8h-4.8zM1728.3 517.6h4.8v4.8h-4.8zM1765.0 517.6h4.8v4.8h-4.8zM1801.7 517.6h4.8v4.8h-4.8zM1838.4 517.6h4.8v4.8h-4.8zM1875.0 517.6h4.8v4.8h-4.8zM1911.7 517.6h4.8v4.8h-4.8zM1948.4 517.6h4.8v4.8h-4.8zM1985.0 517.6h4.8v4.8h-4.8zM60.0 535.9h4.8v4.8h-4.8zM96.7 535.9h4.8v4.8h-4.8zM133.3 535.9h4.8v4.8h-4.8zM170.0 535.9h4.8v4.8h-4.8zM206.7 535.9h4.8v4.8h-4.8zM243.4 535.9h4.8v4.8h-4.8zM280.0 535.9h4.8v4.8h-4.8zM316.7 535.9h4.8v4.8h-4.8zM353.4 535.9h4.8v4.8h-4.8zM390.0 535.9h4.8v4.8h-4.8zM426.7 535.9h4.8v4.8h-4.8zM463.4 535.9h4.8v4.8h-4.8zM500.1 535.9h4.8v4.8h-4.8zM536.7 535.9h4.8v4.8h-4.8zM573.4 535.9h4.8v4.8h-4.8zM610.1 535.9h4.8v4.8h-4.8zM646.8 535.9h4.8v4.8h-4.8zM683.4 535.9h4.8v4.8h-4.8zM720.1 535.9h4.8v4.8h-4.8zM756.8 535.9h4.8v4.8h-4.8zM793.4 535.9h4.8v4.8h-4.8zM830.1 535.9h4.8v4.8h-4.8zM866.8 535.9h4.8v4.8h-4.8zM903.5 535.9h4.8v4.8h-4.8zM940.1 535.9h4.8v4.8h-4.8zM976.8 535.9h4.8v4.8h-4.8zM1013.5 535.9h4.8v4.8h-4.8zM1050.1 535.9h4.8v4.8h-4.8zM1086.8 535.9h4.8v4.8h-4.8zM1123.5 535.9h4.8v4.8h-4.8zM1160.2 535.9h4.8v4.8h-4.8zM1196.8 535.9h4.8v4.8h-4.8zM1233.5 535.9h4.8v4.8h-4.8zM1270.2 535.9h4.8v4.8h-4.8zM1306.8 535.9h4.8v4.8h-4.8zM1343.5 535.9h4.8v4.8h-4.8zM1380.2 535.9h4.8v4.8h-4.8zM1416.9 535.9h4.8v4.8h-4.8zM1453.5 535.9h4.8v4.8h-4.8zM1490.2 535.9h4.8v4.8h-4.8zM1526.9 535.9h4.8v4.8h-4.8zM1563.6 535.9h4.8v4.8h-4.8zM1600.2 535.9h4.8v4.8h-4.8zM1636.9 535.9h4.8v4.8h-4.8zM1673.6 535.9h4.8v4.8h-4.8zM1710.2 535.9h4.8v4.8h-4.8zM1746.9 535.9h4.8v4.8h-4.8zM1783.6 535.9h4.8v4.8h-4.8zM1820.3 535.9h4.8v4.8h-4.8zM1856.9 535.9h4.8v4.8h-4.8zM1893.6 535.9h4.8v4.8h-4.8zM1930.3 535.9h4.8v4.8h-4.8zM1966.9 535.9h4.8v4.8h-4.8zM2003.6 535.9h4.8v4.8h-4.8zM78.1 554.3h4.8v4.8h-4.8zM114.8 554.3h4.8v4.8h-4.8zM151.4 554.3h4.8v4.8h-4.8zM188.1 554.3h4.8v4.8h-4.8zM224.8 554.3h4.8v4.8h-4.8zM261.5 554.3h4.8v4.8h-4.8zM298.1 554.3h4.8v4.8h-4.8zM334.8 554.3h4.8v4.8h-4.8zM371.5 554.3h4.8v4.8h-4.8zM408.1 554.3h4.8v4.8h-4.8zM444.8 554.3h4.8v4.8h-4.8zM481.5 554.3h4.8v4.8h-4.8zM518.2 554.3h4.8v4.8h-4.8zM554.8 554.3h4.8v4.8h-4.8zM591.5 554.3h4.8v4.8h-4.8zM628.2 554.3h4.8v4.8h-4.8zM664.9 554.3h4.8v4.8h-4.8zM701.5 554.3h4.8v4.8h-4.8zM738.2 554.3h4.8v4.8h-4.8zM774.9 554.3h4.8v4.8h-4.8zM811.5 554.3h4.8v4.8h-4.8zM848.2 554.3h4.8v4.8h-4.8zM884.9 554.3h4.8v4.8h-4.8zM921.6 554.3h4.8v4.8h-4.8zM958.2 554.3h4.8v4.8h-4.8zM994.9 554.3h4.8v4.8h-4.8zM1031.6 554.3h4.8v4.8h-4.8zM1068.2 554.3h4.8v4.8h-4.8zM1104.9 554.3h4.8v4.8h-4.8zM1141.6 554.3h4.8v4.8h-4.8zM1178.3 554.3h4.8v4.8h-4.8zM1214.9 554.3h4.8v4.8h-4.8zM1251.6 554.3h4.8v4.8h-4.8zM1288.3 554.3h4.8v4.8h-4.8zM1324.9 554.3h4.8v4.8h-4.8zM1361.6 554.3h4.8v4.8h-4.8zM1398.3 554.3h4.8v4.8h-4.8zM1435.0 554.3h4.8v4.8h-4.8zM1471.6 554.3h4.8v4.8h-4.8zM1508.3 554.3h4.8v4.8h-4.8zM1545.0 554.3h4.8v4.8h-4.8zM1581.7 554.3h4.8v4.8h-4.8zM1618.3 554.3h4.8v4.8h-4.8zM1655.0 554.3h4.8v4.8h-4.8zM1691.7 554.3h4.8v4.8h-4.8zM1728.3 554.3h4.8v4.8h-4.8zM1765.0 554.3h4.8v4.8h-4.8zM1801.7 554.3h4.8v4.8h-4.8zM1838.4 554.3h4.8v4.8h-4.8zM1875.0 554.3h4.8v4.8h-4.8zM1911.7 554.3h4.8v4.8h-4.8zM1948.4 554.3h4.8v4.8h-4.8zM1985.0 554.3h4.8v4.8h-4.8zM60.0 572.6h4.8v4.8h-4.8zM96.7 572.6h4.8v4.8h-4.8zM133.3 572.6h4.8v4.8h-4.8zM170.0 572.6h4.8v4.8h-4.8zM206.7 572.6h4.8v4.8h-4.8zM243.4 572.6h4.8v4.8h-4.8zM280.0 572.6h4.8v4.8h-4.8zM316.7 572.6h4.8v4.8h-4.8zM353.4 572.6h4.8v4.8h-4.8zM390.0 572.6h4.8v4.8h-4.8zM426.7 572.6h4.8v4.8h-4.8zM463.4 572.6h4.8v4.8h-4.8zM500.1 572.6h4.8v4.8h-4.8zM536.7 572.6h4.8v4.8h-4.8zM573.4 572.6h4.8v4.8h-4.8zM610.1 572.6h4.8v4.8h-4.8zM646.8 572.6h4.8v4.8h-4.8zM683.4 572.6h4.8v4.8h-4.8zM720.1 572.6h4.8v4.8h-4.8zM756.8 572.6h4.8v4.8h-4.8zM793.4 572.6h4.8v4.8h-4.8zM830.1 572.6h4.8v4.8h-4.8zM866.8 572.6h4.8v4.8h-4.8zM903.5 572.6h4.8v4.8h-4.8zM940.1 572.6h4.8v4.8h-4.8zM976.8 572.6h4.8v4.8h-4.8zM1013.5 572.6h4.8v4.8h-4.8zM1050.1 572.6h4.8v4.8h-4.8zM1086.8 572.6h4.8v4.8h-4.8zM1123.5 572.6h4.8v4.8h-4.8zM1160.2 572.6h4.8v4.8h-4.8zM1196.8 572.6h4.8v4.8h-4.8zM1233.5 572.6h4.8v4.8h-4.8zM1270.2 572.6h4.8v4.8h-4.8zM1306.8 572.6h4.8v4.8h-4.8zM1343.5 572.6h4.8v4.8h-4.8zM1380.2 572.6h4.8v4.8h-4.8zM1416.9 572.6h4.8v4.8h-4.8zM1453.5 572.6h4.8v4.8h-4.8zM1490.2 572.6h4.8v4.8h-4.8zM1526.9 572.6h4.8v4.8h-4.8zM1563.6 572.6h4.8v4.8h-4.8zM1600.2 572.6h4.8v4.8h-4.8zM1636.9 572.6h4.8v4.8h-4.8zM1673.6 572.6h4.8v4.8h-4.8zM1710.2 572.6h4.8v4.8h-4.8zM1746.9 572.6h4.8v4.8h-4.8zM1783.6 572.6h4.8v4.8h-4.8zM1820.3 572.6h4.8v4.8h-4.8zM1856.9 572.6h4.8v4.8h-4.8zM1893.6 572.6h4.8v4.8h-4.8zM1930.3 572.6h4.8v4.8h-4.8zM1966.9 572.6h4.8v4.8h-4.8zM2003.6 572.6h4.8v4.8h-4.8zM78.1 590.9h4.8v4.8h-4.8zM114.8 590.9h4.8v4.8h-4.8zM151.4 590.9h4.8v4.8h-4.8zM188.1 590.9h4.8v4.8h-4.8zM224.8 590.9h4.8v4.8h-4.8zM261.5 590.9h4.8v4.8h-4.8zM298.1 590.9h4.8v4.8h-4.8zM334.8 590.9h4.8v4.8h-4.8zM371.5 590.9h4.8v4.8h-4.8zM408.1 590.9h4.8v4.8h-4.8zM444.8 590.9h4.8v4.8h-4.8zM481.5 590.9h4.8v4.8h-4.8zM518.2 590.9h4.8v4.8h-4.8zM554.8 590.9h4.8v4.8h-4.8zM591.5 590.9h4.8v4.8h-4.8zM628.2 590.9h4.8v4.8h-4.8zM664.9 590.9h4.8v4.8h-4.8zM701.5 590.9h4.8v4.8h-4.8zM738.2 590.9h4.8v4.8h-4.8zM774.9 590.9h4.8v4.8h-4.8zM811.5 590.9h4.8v4.8h-4.8zM848.2 590.9h4.8v4.8h-4.8zM884.9 590.9h4.8v4.8h-4.8zM921.6 590.9h4.8v4.8h-4.8zM958.2 590.9h4.8v4.8h-4.8zM994.9 590.9h4.8v4.8h-4.8zM1031.6 590.9h4.8v4.8h-4.8zM1068.2 590.9h4.8v4.8h-4.8zM1104.9 590.9h4.8v4.8h-4.8zM1141.6 590.9h4.8v4.8h-4.8zM1178.3 590.9h4.8v4.8h-4.8zM1214.9 590.9h4.8v4.8h-4.8zM1251.6 590.9h4.8v4.8h-4.8zM1288.3 590.9h4.8v4.8h-4.8zM1324.9 590.9h4.8v4.8h-4.8zM1361.6 590.9h4.8v4.8h-4.8zM1398.3 590.9h4.8v4.8h-4.8zM1435.0 590.9h4.8v4.8h-4.8zM1471.6 590.9h4.8v4.8h-4.8zM1508.3 590.9h4.8v4.8h-4.8zM1545.0 590.9h4.8v4.8h-4.8zM1581.7 590.9h4.8v4.8h-4.8zM1618.3 590.9h4.8v4.8h-4.8zM1655.0 590.9h4.8v4.8h-4.8zM1691.7 590.9h4.8v4.8h-4.8zM1728.3 590.9h4.8v4.8h-4.8zM1765.0 590.9h4.8v4.8h-4.8zM1801.7 590.9h4.8v4.8h-4.8zM1838.4 590.9h4.8v4.8h-4.8zM1875.0 590.9h4.8v4.8h-4.8zM1911.7 590.9h4.8v4.8h-4.8zM1948.4 590.9h4.8v4.8h-4.8zM1985.0 590.9h4.8v4.8h-4.8zM60.0 609.3h4.8v4.8h-4.8zM96.7 609.3h4.8v4.8h-4.8zM133.3 609.3h4.8v4.8h-4.8zM170.0 609.3h4.8v4.8h-4.8zM206.7 609.3h4.8v4.8h-4.8zM243.4 609.3h4.8v4.8h-4.8zM280.0 609.3h4.8v4.8h-4.8zM316.7 609.3h4.8v4.8h-4.8zM353.4 609.3h4.8v4.8h-4.8zM390.0 609.3h4.8v4.8h-4.8zM426.7 609.3h4.8v4.8h-4.8zM463.4 609.3h4.8v4.8h-4.8zM500.1 609.3h4.8v4.8h-4.8zM536.7 609.3h4.8v4.8h-4.8zM573.4 609.3h4.8v4.8h-4.8zM610.1 609.3h4.8v4.8h-4.8zM646.8 609.3h4.8v4.8h-4.8zM683.4 609.3h4.8v4.8h-4.8zM720.1 609.3h4.8v4.8h-4.8zM756.8 609.3h4.8v4.8h-4.8zM793.4 609.3h4.8v4.8h-4.8zM830.1 609.3h4.8v4.8h-4.8zM866.8 609.3h4.8v4.8h-4.8zM903.5 609.3h4.8v4.8h-4.8zM940.1 609.3h4.8v4.8h-4.8zM976.8 609.3h4.8v4.8h-4.8zM1013.5 609.3h4.8v4.8h-4.8zM1050.1 609.3h4.8v4.8h-4.8zM1086.8 609.3h4.8v4.8h-4.8zM1123.5 609.3h4.8v4.8h-4.8zM1160.2 609.3h4.8v4.8h-4.8zM1196.8 609.3h4.8v4.8h-4.8zM1233.5 609.3h4.8v4.8h-4.8zM1270.2 609.3h4.8v4.8h-4.8zM1306.8 609.3h4.8v4.8h-4.8zM1343.5 609.3h4.8v4.8h-4.8zM1380.2 609.3h4.8v4.8h-4.8zM1416.9 609.3h4.8v4.8h-4.8zM1453.5 609.3h4.8v4.8h-4.8zM1490.2 609.3h4.8v4.8h-4.8zM1526.9 609.3h4.8v4.8h-4.8zM1563.6 609.3h4.8v4.8h-4.8zM1600.2 609.3h4.8v4.8h-4.8zM1636.9 609.3h4.8v4.8h-4.8zM1673.6 609.3h4.8v4.8h-4.8zM1710.2 609.3h4.8v4.8h-4.8zM1746.9 609.3h4.8v4.8h-4.8zM1783.6 609.3h4.8v4.8h-4.8zM1820.3 609.3h4.8v4.8h-4.8zM1856.9 609.3h4.8v4.8h-4.8zM1893.6 609.3h4.8v4.8h-4.8zM1930.3 609.3h4.8v4.8h-4.8zM1966.9 609.3h4.8v4.8h-4.8zM2003.6 609.3h4.8v4.8h-4.8zM78.1 627.6h4.8v4.8h-4.8zM114.8 627.6h4.8v4.8h-4.8zM151.4 627.6h4.8v4.8h-4.8zM188.1 627.6h4.8v4.8h-4.8zM224.8 627.6h4.8v4.8h-4.8zM261.5 627.6h4.8v4.8h-4.8zM298.1 627.6h4.8v4.8h-4.8zM334.8 627.6h4.8v4.8h-4.8zM371.5 627.6h4.8v4.8h-4.8zM408.1 627.6h4.8v4.8h-4.8zM444.8 627.6h4.8v4.8h-4.8zM481.5 627.6h4.8v4.8h-4.8zM518.2 627.6h4.8v4.8h-4.8zM554.8 627.6h4.8v4.8h-4.8zM591.5 627.6h4.8v4.8h-4.8zM628.2 627.6h4.8v4.8h-4.8zM664.9 627.6h4.8v4.8h-4.8zM701.5 627.6h4.8v4.8h-4.8zM738.2 627.6h4.8v4.8h-4.8zM774.9 627.6h4.8v4.8h-4.8zM811.5 627.6h4.8v4.8h-4.8zM848.2 627.6h4.8v4.8h-4.8zM884.9 627.6h4.8v4.8h-4.8zM921.6 627.6h4.8v4.8h-4.8zM958.2 627.6h4.8v4.8h-4.8zM994.9 627.6h4.8v4.8h-4.8zM1031.6 627.6h4.8v4.8h-4.8zM1068.2 627.6h4.8v4.8h-4.8zM1104.9 627.6h4.8v4.8h-4.8zM1141.6 627.6h4.8v4.8h-4.8zM1178.3 627.6h4.8v4.8h-4.8zM1214.9 627.6h4.8v4.8h-4.8zM1251.6 627.6h4.8v4.8h-4.8zM1288.3 627.6h4.8v4.8h-4.8zM1324.9 627.6h4.8v4.8h-4.8zM1361.6 627.6h4.8v4.8h-4.8zM1398.3 627.6h4.8v4.8h-4.8zM1435.0 627.6h4.8v4.8h-4.8zM1471.6 627.6h4.8v4.8h-4.8zM1508.3 627.6h4.8v4.8h-4.8zM1545.0 627.6h4.8v4.8h-4.8zM1581.7 627.6h4.8v4.8h-4.8zM1618.3 627.6h4.8v4.8h-4.8zM1655.0 627.6h4.8v4.8h-4.8zM1691.7 627.6h4.8v4.8h-4.8zM1728.3 627.6h4.8v4.8h-4.8zM1765.0 627.6h4.8v4.8h-4.8zM1801.7 627.6h4.8v4.8h-4.8zM1838.4 627.6h4.8v4.8h-4.8zM1875.0 627.6h4.8v4.8h-4.8zM1911.7 627.6h4.8v4.8h-4.8zM1948.4 627.6h4.8v4.8h-4.8zM1985.0 627.6h4.8v4.8h-4.8zM60.0 646.0h4.8v4.8h-4.8zM96.7 646.0h4.8v4.8h-4.8zM133.3 646.0h4.8v4.8h-4.8zM170.0 646.0h4.8v4.8h-4.8zM206.7 646.0h4.8v4.8h-4.8zM243.4 646.0h4.8v4.8h-4.8zM280.0 646.0h4.8v4.8h-4.8zM316.7 646.0h4.8v4.8h-4.8zM353.4 646.0h4.8v4.8h-4.8zM390.0 646.0h4.8v4.8h-4.8zM426.7 646.0h4.8v4.8h-4.8zM463.4 646.0h4.8v4.8h-4.8zM500.1 646.0h4.8v4.8h-4.8zM536.7 646.0h4.8v4.8h-4.8zM573.4 646.0h4.8v4.8h-4.8zM610.1 646.0h4.8v4.8h-4.8zM646.8 646.0h4.8v4.8h-4.8zM683.4 646.0h4.8v4.8h-4.8zM720.1 646.0h4.8v4.8h-4.8zM756.8 646.0h4.8v4.8h-4.8zM793.4 646.0h4.8v4.8h-4.8zM830.1 646.0h4.8v4.8h-4.8zM866.8 646.0h4.8v4.8h-4.8zM903.5 646.0h4.8v4.8h-4.8zM940.1 646.0h4.8v4.8h-4.8zM976.8 646.0h4.8v4.8h-4.8zM1013.5 646.0h4.8v4.8h-4.8zM1050.1 646.0h4.8v4.8h-4.8zM1086.8 646.0h4.8v4.8h-4.8zM1123.5 646.0h4.8v4.8h-4.8zM1160.2 646.0h4.8v4.8h-4.8zM1196.8 646.0h4.8v4.8h-4.8zM1233.5 646.0h4.8v4.8h-4.8zM1270.2 646.0h4.8v4.8h-4.8zM1306.8 646.0h4.8v4.8h-4.8zM1343.5 646.0h4.8v4.8h-4.8zM1380.2 646.0h4.8v4.8h-4.8zM1416.9 646.0h4.8v4.8h-4.8zM1453.5 646.0h4.8v4.8h-4.8zM1490.2 646.0h4.8v4.8h-4.8zM1526.9 646.0h4.8v4.8h-4.8zM1563.6 646.0h4.8v4.8h-4.8zM1600.2 646.0h4.8v4.8h-4.8zM1636.9 646.0h4.8v4.8h-4.8zM1673.6 646.0h4.8v4.8h-4.8zM1710.2 646.0h4.8v4.8h-4.8zM1746.9 646.0h4.8v4.8h-4.8zM1783.6 646.0h4.8v4.8h-4.8zM1820.3 646.0h4.8v4.8h-4.8zM1856.9 646.0h4.8v4.8h-4.8zM1893.6 646.0h4.8v4.8h-4.8zM1930.3 646.0h4.8v4.8h-4.8zM1966.9 646.0h4.8v4.8h-4.8zM2003.6 646.0h4.8v4.8h-4.8zM78.1 664.3h4.8v4.8h-4.8zM114.8 664.3h4.8v4.8h-4.8zM151.4 664.3h4.8v4.8h-4.8zM188.1 664.3h4.8v4.8h-4.8zM224.8 664.3h4.8v4.8h-4.8zM261.5 664.3h4.8v4.8h-4.8zM298.1 664.3h4.8v4.8h-4.8zM334.8 664.3h4.8v4.8h-4.8zM371.5 664.3h4.8v4.8h-4.8zM408.1 664.3h4.8v4.8h-4.8zM444.8 664.3h4.8v4.8h-4.8zM481.5 664.3h4.8v4.8h-4.8zM518.2 664.3h4.8v4.8h-4.8zM554.8 664.3h4.8v4.8h-4.8zM591.5 664.3h4.8v4.8h-4.8zM628.2 664.3h4.8v4.8h-4.8zM664.9 664.3h4.8v4.8h-4.8zM701.5 664.3h4.8v4.8h-4.8zM738.2 664.3h4.8v4.8h-4.8zM774.9 664.3h4.8v4.8h-4.8zM811.5 664.3h4.8v4.8h-4.8zM848.2 664.3h4.8v4.8h-4.8zM884.9 664.3h4.8v4.8h-4.8zM921.6 664.3h4.8v4.8h-4.8zM958.2 664.3h4.8v4.8h-4.8zM994.9 664.3h4.8v4.8h-4.8zM1031.6 664.3h4.8v4.8h-4.8zM1068.2 664.3h4.8v4.8h-4.8zM1104.9 664.3h4.8v4.8h-4.8zM1141.6 664.3h4.8v4.8h-4.8zM1178.3 664.3h4.8v4.8h-4.8zM1214.9 664.3h4.8v4.8h-4.8zM1251.6 664.3h4.8v4.8h-4.8zM1288.3 664.3h4.8v4.8h-4.8zM1324.9 664.3h4.8v4.8h-4.8zM1361.6 664.3h4.8v4.8h-4.8zM1398.3 664.3h4.8v4.8h-4.8zM1435.0 664.3h4.8v4.8h-4.8zM1471.6 664.3h4.8v4.8h-4.8zM1508.3 664.3h4.8v4.8h-4.8zM1545.0 664.3h4.8v4.8h-4.8zM1581.7 664.3h4.8v4.8h-4.8zM1618.3 664.3h4.8v4.8h-4.8zM1655.0 664.3h4.8v4.8h-4.8zM1691.7 664.3h4.8v4.8h-4.8zM1728.3 664.3h4.8v4.8h-4.8zM1765.0 664.3h4.8v4.8h-4.8zM1801.7 664.3h4.8v4.8h-4.8zM1838.4 664.3h4.8v4.8h-4.8zM1875.0 664.3h4.8v4.8h-4.8zM1911.7 664.3h4.8v4.8h-4.8zM1948.4 664.3h4.8v4.8h-4.8zM1985.0 664.3h4.8v4.8h-4.8zM60.0 682.6h4.8v4.8h-4.8zM96.7 682.6h4.8v4.8h-4.8zM133.3 682.6h4.8v4.8h-4.8zM170.0 682.6h4.8v4.8h-4.8zM206.7 682.6h4.8v4.8h-4.8zM243.4 682.6h4.8v4.8h-4.8zM280.0 682.6h4.8v4.8h-4.8zM316.7 682.6h4.8v4.8h-4.8zM353.4 682.6h4.8v4.8h-4.8zM390.0 682.6h4.8v4.8h-4.8zM426.7 682.6h4.8v4.8h-4.8zM463.4 682.6h4.8v4.8h-4.8zM500.1 682.6h4.8v4.8h-4.8zM536.7 682.6h4.8v4.8h-4.8zM573.4 682.6h4.8v4.8h-4.8zM610.1 682.6h4.8v4.8h-4.8zM646.8 682.6h4.8v4.8h-4.8zM683.4 682.6h4.8v4.8h-4.8zM720.1 682.6h4.8v4.8h-4.8zM756.8 682.6h4.8v4.8h-4.8zM793.4 682.6h4.8v4.8h-4.8zM830.1 682.6h4.8v4.8h-4.8zM866.8 682.6h4.8v4.8h-4.8zM903.5 682.6h4.8v4.8h-4.8zM940.1 682.6h4.8v4.8h-4.8zM976.8 682.6h4.8v4.8h-4.8zM1013.5 682.6h4.8v4.8h-4.8zM1050.1 682.6h4.8v4.8h-4.8zM1086.8 682.6h4.8v4.8h-4.8zM1123.5 682.6h4.8v4.8h-4.8zM1160.2 682.6h4.8v4.8h-4.8zM1196.8 682.6h4.8v4.8h-4.8zM1233.5 682.6h4.8v4.8h-4.8zM1270.2 682.6h4.8v4.8h-4.8zM1306.8 682.6h4.8v4.8h-4.8zM1343.5 682.6h4.8v4.8h-4.8zM1380.2 682.6h4.8v4.8h-4.8zM1416.9 682.6h4.8v4.8h-4.8zM1453.5 682.6h4.8v4.8h-4.8zM1490.2 682.6h4.8v4.8h-4.8zM1526.9 682.6h4.8v4.8h-4.8zM1563.6 682.6h4.8v4.8h-4.8zM1600.2 682.6h4.8v4.8h-4.8zM1636.9 682.6h4.8v4.8h-4.8zM1673.6 682.6h4.8v4.8h-4.8zM1710.2 682.6h4.8v4.8h-4.8zM1746.9 682.6h4.8v4.8h-4.8zM1783.6 682.6h4.8v4.8h-4.8zM1820.3 682.6h4.8v4.8h-4.8zM1856.9 682.6h4.8v4.8h-4.8zM1893.6 682.6h4.8v4.8h-4.8zM1930.3 682.6h4.8v4.8h-4.8zM1966.9 682.6h4.8v4.8h-4.8zM2003.6 682.6h4.8v4.8h-4.8zM78.1 701.0h4.8v4.8h-4.8zM114.8 701.0h4.8v4.8h-4.8zM151.4 701.0h4.8v4.8h-4.8zM188.1 701.0h4.8v4.8h-4.8zM224.8 701.0h4.8v4.8h-4.8zM261.5 701.0h4.8v4.8h-4.8zM298.1 701.0h4.8v4.8h-4.8zM334.8 701.0h4.8v4.8h-4.8zM371.5 701.0h4.8v4.8h-4.8zM408.1 701.0h4.8v4.8h-4.8zM444.8 701.0h4.8v4.8h-4.8zM481.5 701.0h4.8v4.8h-4.8zM518.2 701.0h4.8v4.8h-4.8zM554.8 701.0h4.8v4.8h-4.8zM591.5 701.0h4.8v4.8h-4.8zM628.2 701.0h4.8v4.8h-4.8zM664.9 701.0h4.8v4.8h-4.8zM701.5 701.0h4.8v4.8h-4.8zM738.2 701.0h4.8v4.8h-4.8zM774.9 701.0h4.8v4.8h-4.8zM811.5 701.0h4.8v4.8h-4.8zM848.2 701.0h4.8v4.8h-4.8zM884.9 701.0h4.8v4.8h-4.8zM921.6 701.0h4.8v4.8h-4.8zM958.2 701.0h4.8v4.8h-4.8zM994.9 701.0h4.8v4.8h-4.8zM1031.6 701.0h4.8v4.8h-4.8zM1068.2 701.0h4.8v4.8h-4.8zM1104.9 701.0h4.8v4.8h-4.8zM1141.6 701.0h4.8v4.8h-4.8zM1178.3 701.0h4.8v4.8h-4.8zM1214.9 701.0h4.8v4.8h-4.8zM1251.6 701.0h4.8v4.8h-4.8zM1288.3 701.0h4.8v4.8h-4.8zM1324.9 701.0h4.8v4.8h-4.8zM1361.6 701.0h4.8v4.8h-4.8zM1398.3 701.0h4.8v4.8h-4.8zM1435.0 701.0h4.8v4.8h-4.8zM1471.6 701.0h4.8v4.8h-4.8zM1508.3 701.0h4.8v4.8h-4.8zM1545.0 701.0h4.8v4.8h-4.8zM1581.7 701.0h4.8v4.8h-4.8zM1618.3 701.0h4.8v4.8h-4.8zM1655.0 701.0h4.8v4.8h-4.8zM1691.7 701.0h4.8v4.8h-4.8zM1728.3 701.0h4.8v4.8h-4.8zM1765.0 701.0h4.8v4.8h-4.8zM1801.7 701.0h4.8v4.8h-4.8zM1838.4 701.0h4.8v4.8h-4.8zM1875.0 701.0h4.8v4.8h-4.8zM1911.7 701.0h4.8v4.8h-4.8zM1948.4 701.0h4.8v4.8h-4.8zM1985.0 701.0h4.8v4.8h-4.8zM60.0 719.3h4.8v4.8h-4.8zM96.7 719.3h4.8v4.8h-4.8zM133.3 719.3h4.8v4.8h-4.8zM170.0 719.3h4.8v4.8h-4.8zM206.7 719.3h4.8v4.8h-4.8zM243.4 719.3h4.8v4.8h-4.8zM280.0 719.3h4.8v4.8h-4.8zM316.7 719.3h4.8v4.8h-4.8zM353.4 719.3h4.8v4.8h-4.8zM390.0 719.3h4.8v4.8h-4.8zM426.7 719.3h4.8v4.8h-4.8zM463.4 719.3h4.8v4.8h-4.8zM500.1 719.3h4.8v4.8h-4.8zM536.7 719.3h4.8v4.8h-4.8zM573.4 719.3h4.8v4.8h-4.8zM610.1 719.3h4.8v4.8h-4.8zM646.8 719.3h4.8v4.8h-4.8zM683.4 719.3h4.8v4.8h-4.8zM720.1 719.3h4.8v4.8h-4.8zM756.8 719.3h4.8v4.8h-4.8zM793.4 719.3h4.8v4.8h-4.8zM830.1 719.3h4.8v4.8h-4.8zM866.8 719.3h4.8v4.8h-4.8zM903.5 719.3h4.8v4.8h-4.8zM940.1 719.3h4.8v4.8h-4.8zM976.8 719.3h4.8v4.8h-4.8zM1013.5 719.3h4.8v4.8h-4.8zM1050.1 719.3h4.8v4.8h-4.8zM1086.8 719.3h4.8v4.8h-4.8zM1123.5 719.3h4.8v4.8h-4.8zM1160.2 719.3h4.8v4.8h-4.8zM1196.8 719.3h4.8v4.8h-4.8zM1233.5 719.3h4.8v4.8h-4.8zM1270.2 719.3h4.8v4.8h-4.8zM1306.8 719.3h4.8v4.8h-4.8zM1343.5 719.3h4.8v4.8h-4.8zM1380.2 719.3h4.8v4.8h-4.8zM1416.9 719.3h4.8v4.8h-4.8zM1453.5 719.3h4.8v4.8h-4.8zM1490.2 719.3h4.8v4.8h-4.8zM1526.9 719.3h4.8v4.8h-4.8zM1563.6 719.3h4.8v4.8h-4.8zM1600.2 719.3h4.8v4.8h-4.8zM1636.9 719.3h4.8v4.8h-4.8zM1673.6 719.3h4.8v4.8h-4.8zM1710.2 719.3h4.8v4.8h-4.8zM1746.9 719.3h4.8v4.8h-4.8zM1783.6 719.3h4.8v4.8h-4.8zM1820.3 719.3h4.8v4.8h-4.8zM1856.9 719.3h4.8v4.8h-4.8zM1893.6 719.3h4.8v4.8h-4.8zM1930.3 719.3h4.8v4.8h-4.8zM1966.9 719.3h4.8v4.8h-4.8zM2003.6 719.3h4.8v4.8h-4.8zM78.1 737.6h4.8v4.8h-4.8zM114.8 737.6h4.8v4.8h-4.8zM151.4 737.6h4.8v4.8h-4.8zM188.1 737.6h4.8v4.8h-4.8zM224.8 737.6h4.8v4.8h-4.8zM261.5 737.6h4.8v4.8h-4.8zM298.1 737.6h4.8v4.8h-4.8zM334.8 737.6h4.8v4.8h-4.8zM371.5 737.6h4.8v4.8h-4.8zM408.1 737.6h4.8v4.8h-4.8zM444.8 737.6h4.8v4.8h-4.8zM481.5 737.6h4.8v4.8h-4.8zM518.2 737.6h4.8v4.8h-4.8zM554.8 737.6h4.8v4.8h-4.8zM591.5 737.6h4.8v4.8h-4.8zM628.2 737.6h4.8v4.8h-4.8zM664.9 737.6h4.8v4.8h-4.8zM701.5 737.6h4.8v4.8h-4.8zM738.2 737.6h4.8v4.8h-4.8zM774.9 737.6h4.8v4.8h-4.8zM811.5 737.6h4.8v4.8h-4.8zM848.2 737.6h4.8v4.8h-4.8zM884.9 737.6h4.8v4.8h-4.8zM921.6 737.6h4.8v4.8h-4.8zM958.2 737.6h4.8v4.8h-4.8zM994.9 737.6h4.8v4.8h-4.8zM1031.6 737.6h4.8v4.8h-4.8zM1068.2 737.6h4.8v4.8h-4.8zM1104.9 737.6h4.8v4.8h-4.8zM1141.6 737.6h4.8v4.8h-4.8zM1178.3 737.6h4.8v4.8h-4.8zM1214.9 737.6h4.8v4.8h-4.8zM1251.6 737.6h4.8v4.8h-4.8zM1288.3 737.6h4.8v4.8h-4.8zM1324.9 737.6h4.8v4.8h-4.8zM1361.6 737.6h4.8v4.8h-4.8zM1398.3 737.6h4.8v4.8h-4.8zM1435.0 737.6h4.8v4.8h-4.8zM1471.6 737.6h4.8v4.8h-4.8zM1508.3 737.6h4.8v4.8h-4.8zM1545.0 737.6h4.8v4.8h-4.8zM1581.7 737.6h4.8v4.8h-4.8zM1618.3 737.6h4.8v4.8h-4.8zM1655.0 737.6h4.8v4.8h-4.8zM1691.7 737.6h4.8v4.8h-4.8zM1728.3 737.6h4.8v4.8h-4.8zM1765.0 737.6h4.8v4.8h-4.8zM1801.7 737.6h4.8v4.8h-4.8zM1838.4 737.6h4.8v4.8h-4.8zM1875.0 737.6h4.8v4.8h-4.8zM1911.7 737.6h4.8v4.8h-4.8zM1948.4 737.6h4.8v4.8h-4.8zM1985.0 737.6h4.8v4.8h-4.8zM60.0 756.0h4.8v4.8h-4.8zM96.7 756.0h4.8v4.8h-4.8zM133.3 756.0h4.8v4.8h-4.8zM170.0 756.0h4.8v4.8h-4.8zM206.7 756.0h4.8v4.8h-4.8zM243.4 756.0h4.8v4.8h-4.8zM280.0 756.0h4.8v4.8h-4.8zM316.7 756.0h4.8v4.8h-4.8zM353.4 756.0h4.8v4.8h-4.8zM390.0 756.0h4.8v4.8h-4.8zM426.7 756.0h4.8v4.8h-4.8zM463.4 756.0h4.8v4.8h-4.8zM500.1 756.0h4.8v4.8h-4.8zM536.7 756.0h4.8v4.8h-4.8zM573.4 756.0h4.8v4.8h-4.8zM610.1 756.0h4.8v4.8h-4.8zM646.8 756.0h4.8v4.8h-4.8zM683.4 756.0h4.8v4.8h-4.8zM720.1 756.0h4.8v4.8h-4.8zM756.8 756.0h4.8v4.8h-4.8zM793.4 756.0h4.8v4.8h-4.8zM830.1 756.0h4.8v4.8h-4.8zM866.8 756.0h4.8v4.8h-4.8zM903.5 756.0h4.8v4.8h-4.8zM940.1 756.0h4.8v4.8h-4.8zM976.8 756.0h4.8v4.8h-4.8zM1013.5 756.0h4.8v4.8h-4.8zM1050.1 756.0h4.8v4.8h-4.8zM1086.8 756.0h4.8v4.8h-4.8zM1123.5 756.0h4.8v4.8h-4.8zM1160.2 756.0h4.8v4.8h-4.8zM1196.8 756.0h4.8v4.8h-4.8zM1233.5 756.0h4.8v4.8h-4.8zM1270.2 756.0h4.8v4.8h-4.8zM1306.8 756.0h4.8v4.8h-4.8zM1343.5 756.0h4.8v4.8h-4.8zM1380.2 756.0h4.8v4.8h-4.8zM1416.9 756.0h4.8v4.8h-4.8zM1453.5 756.0h4.8v4.8h-4.8zM1490.2 756.0h4.8v4.8h-4.8zM1526.9 756.0h4.8v4.8h-4.8zM1563.6 756.0h4.8v4.8h-4.8zM1600.2 756.0h4.8v4.8h-4.8zM1636.9 756.0h4.8v4.8h-4.8zM1673.6 756.0h4.8v4.8h-4.8zM1710.2 756.0h4.8v4.8h-4.8zM1746.9 756.0h4.8v4.8h-4.8zM1783.6 756.0h4.8v4.8h-4.8zM1820.3 756.0h4.8v4.8h-4.8zM1856.9 756.0h4.8v4.8h-4.8zM1893.6 756.0h4.8v4.8h-4.8zM1930.3 756.0h4.8v4.8h-4.8zM1966.9 756.0h4.8v4.8h-4.8zM2003.6 756.0h4.8v4.8h-4.8zM78.1 774.3h4.8v4.8h-4.8zM114.8 774.3h4.8v4.8h-4.8zM151.4 774.3h4.8v4.8h-4.8zM188.1 774.3h4.8v4.8h-4.8zM224.8 774.3h4.8v4.8h-4.8zM261.5 774.3h4.8v4.8h-4.8zM298.1 774.3h4.8v4.8h-4.8zM334.8 774.3h4.8v4.8h-4.8zM371.5 774.3h4.8v4.8h-4.8zM408.1 774.3h4.8v4.8h-4.8zM444.8 774.3h4.8v4.8h-4.8zM481.5 774.3h4.8v4.8h-4.8zM518.2 774.3h4.8v4.8h-4.8zM554.8 774.3h4.8v4.8h-4.8zM591.5 774.3h4.8v4.8h-4.8zM628.2 774.3h4.8v4.8h-4.8zM664.9 774.3h4.8v4.8h-4.8zM701.5 774.3h4.8v4.8h-4.8zM738.2 774.3h4.8v4.8h-4.8zM774.9 774.3h4.8v4.8h-4.8zM811.5 774.3h4.8v4.8h-4.8zM848.2 774.3h4.8v4.8h-4.8zM884.9 774.3h4.8v4.8h-4.8zM921.6 774.3h4.8v4.8h-4.8zM958.2 774.3h4.8v4.8h-4.8zM994.9 774.3h4.8v4.8h-4.8zM1031.6 774.3h4.8v4.8h-4.8zM1068.2 774.3h4.8v4.8h-4.8zM1104.9 774.3h4.8v4.8h-4.8zM1141.6 774.3h4.8v4.8h-4.8zM1178.3 774.3h4.8v4.8h-4.8zM1214.9 774.3h4.8v4.8h-4.8zM1251.6 774.3h4.8v4.8h-4.8zM1288.3 774.3h4.8v4.8h-4.8zM1324.9 774.3h4.8v4.8h-4.8zM1361.6 774.3h4.8v4.8h-4.8zM1398.3 774.3h4.8v4.8h-4.8zM1435.0 774.3h4.8v4.8h-4.8zM1471.6 774.3h4.8v4.8h-4.8zM1508.3 774.3h4.8v4.8h-4.8zM1545.0 774.3h4.8v4.8h-4.8zM1581.7 774.3h4.8v4.8h-4.8zM1618.3 774.3h4.8v4.8h-4.8zM1655.0 774.3h4.8v4.8h-4.8zM1691.7 774.3h4.8v4.8h-4.8zM1728.3 774.3h4.8v4.8h-4.8zM1765.0 774.3h4.8v4.8h-4.8zM1801.7 774.3h4.8v4.8h-4.8zM1838.4 774.3h4.8v4.8h-4.8zM1875.0 774.3h4.8v4.8h-4.8zM1911.7 774.3h4.8v4.8h-4.8zM1948.4 774.3h4.8v4.8h-4.8zM1985.0 774.3h4.8v4.8h-4.8zM60.0 792.6h4.8v4.8h-4.8zM96.7 792.6h4.8v4.8h-4.8zM133.3 792.6h4.8v4.8h-4.8zM170.0 792.6h4.8v4.8h-4.8zM206.7 792.6h4.8v4.8h-4.8zM243.4 792.6h4.8v4.8h-4.8zM280.0 792.6h4.8v4.8h-4.8zM316.7 792.6h4.8v4.8h-4.8zM353.4 792.6h4.8v4.8h-4.8zM390.0 792.6h4.8v4.8h-4.8zM426.7 792.6h4.8v4.8h-4.8zM463.4 792.6h4.8v4.8h-4.8zM500.1 792.6h4.8v4.8h-4.8zM536.7 792.6h4.8v4.8h-4.8zM573.4 792.6h4.8v4.8h-4.8zM610.1 792.6h4.8v4.8h-4.8zM646.8 792.6h4.8v4.8h-4.8zM683.4 792.6h4.8v4.8h-4.8zM720.1 792.6h4.8v4.8h-4.8zM756.8 792.6h4.8v4.8h-4.8zM793.4 792.6h4.8v4.8h-4.8zM830.1 792.6h4.8v4.8h-4.8zM866.8 792.6h4.8v4.8h-4.8zM903.5 792.6h4.8v4.8h-4.8zM940.1 792.6h4.8v4.8h-4.8zM976.8 792.6h4.8v4.8h-4.8zM1013.5 792.6h4.8v4.8h-4.8zM1050.1 792.6h4.8v4.8h-4.8zM1086.8 792.6h4.8v4.8h-4.8zM1123.5 792.6h4.8v4.8h-4.8zM1160.2 792.6h4.8v4.8h-4.8zM1196.8 792.6h4.8v4.8h-4.8zM1233.5 792.6h4.8v4.8h-4.8zM1270.2 792.6h4.8v4.8h-4.8zM1306.8 792.6h4.8v4.8h-4.8zM1343.5 792.6h4.8v4.8h-4.8zM1380.2 792.6h4.8v4.8h-4.8zM1416.9 792.6h4.8v4.8h-4.8zM1453.5 792.6h4.8v4.8h-4.8zM1490.2 792.6h4.8v4.8h-4.8zM1526.9 792.6h4.8v4.8h-4.8zM1563.6 792.6h4.8v4.8h-4.8zM1600.2 792.6h4.8v4.8h-4.8zM1636.9 792.6h4.8v4.8h-4.8zM1673.6 792.6h4.8v4.8h-4.8zM1710.2 792.6h4.8v4.8h-4.8zM1746.9 792.6h4.8v4.8h-4.8zM1783.6 792.6h4.8v4.8h-4.8zM1820.3 792.6h4.8v4.8h-4.8zM1856.9 792.6h4.8v4.8h-4.8zM1893.6 792.6h4.8v4.8h-4.8zM1930.3 792.6h4.8v4.8h-4.8zM1966.9 792.6h4.8v4.8h-4.8zM2003.6 792.6h4.8v4.8h-4.8zM78.1 811.0h4.8v4.8h-4.8zM114.8 811.0h4.8v4.8h-4.8zM151.4 811.0h4.8v4.8h-4.8zM188.1 811.0h4.8v4.8h-4.8zM224.8 811.0h4.8v4.8h-4.8zM261.5 811.0h4.8v4.8h-4.8zM298.1 811.0h4.8v4.8h-4.8zM334.8 811.0h4.8v4.8h-4.8zM371.5 811.0h4.8v4.8h-4.8zM408.1 811.0h4.8v4.8h-4.8zM444.8 811.0h4.8v4.8h-4.8zM481.5 811.0h4.8v4.8h-4.8zM518.2 811.0h4.8v4.8h-4.8zM554.8 811.0h4.8v4.8h-4.8zM591.5 811.0h4.8v4.8h-4.8zM628.2 811.0h4.8v4.8h-4.8zM664.9 811.0h4.8v4.8h-4.8zM701.5 811.0h4.8v4.8h-4.8zM738.2 811.0h4.8v4.8h-4.8zM774.9 811.0h4.8v4.8h-4.8zM811.5 811.0h4.8v4.8h-4.8zM848.2 811.0h4.8v4.8h-4.8zM884.9 811.0h4.8v4.8h-4.8zM921.6 811.0h4.8v4.8h-4.8zM958.2 811.0h4.8v4.8h-4.8zM994.9 811.0h4.8v4.8h-4.8zM1031.6 811.0h4.8v4.8h-4.8zM1068.2 811.0h4.8v4.8h-4.8zM1104.9 811.0h4.8v4.8h-4.8zM1141.6 811.0h4.8v4.8h-4.8zM1178.3 811.0h4.8v4.8h-4.8zM1214.9 811.0h4.8v4.8h-4.8zM1251.6 811.0h4.8v4.8h-4.8zM1288.3 811.0h4.8v4.8h-4.8zM1324.9 811.0h4.8v4.8h-4.8zM1361.6 811.0h4.8v4.8h-4.8zM1398.3 811.0h4.8v4.8h-4.8zM1435.0 811.0h4.8v4.8h-4.8zM1471.6 811.0h4.8v4.8h-4.8zM1508.3 811.0h4.8v4.8h-4.8zM1545.0 811.0h4.8v4.8h-4.8zM1581.7 811.0h4.8v4.8h-4.8zM1618.3 811.0h4.8v4.8h-4.8zM1655.0 811.0h4.8v4.8h-4.8zM1691.7 811.0h4.8v4.8h-4.8zM1728.3 811.0h4.8v4.8h-4.8zM1765.0 811.0h4.8v4.8h-4.8zM1801.7 811.0h4.8v4.8h-4.8zM1838.4 811.0h4.8v4.8h-4.8zM1875.0 811.0h4.8v4.8h-4.8zM1911.7 811.0h4.8v4.8h-4.8zM1948.4 811.0h4.8v4.8h-4.8zM1985.0 811.0h4.8v4.8h-4.8zM60.0 829.3h4.8v4.8h-4.8zM96.7 829.3h4.8v4.8h-4.8zM133.3 829.3h4.8v4.8h-4.8zM170.0 829.3h4.8v4.8h-4.8zM206.7 829.3h4.8v4.8h-4.8zM243.4 829.3h4.8v4.8h-4.8zM280.0 829.3h4.8v4.8h-4.8zM316.7 829.3h4.8v4.8h-4.8zM353.4 829.3h4.8v4.8h-4.8zM390.0 829.3h4.8v4.8h-4.8zM426.7 829.3h4.8v4.8h-4.8zM463.4 829.3h4.8v4.8h-4.8zM500.1 829.3h4.8v4.8h-4.8zM536.7 829.3h4.8v4.8h-4.8zM573.4 829.3h4.8v4.8h-4.8zM610.1 829.3h4.8v4.8h-4.8zM646.8 829.3h4.8v4.8h-4.8zM683.4 829.3h4.8v4.8h-4.8zM720.1 829.3h4.8v4.8h-4.8zM756.8 829.3h4.8v4.8h-4.8zM793.4 829.3h4.8v4.8h-4.8zM830.1 829.3h4.8v4.8h-4.8zM866.8 829.3h4.8v4.8h-4.8zM903.5 829.3h4.8v4.8h-4.8zM940.1 829.3h4.8v4.8h-4.8zM976.8 829.3h4.8v4.8h-4.8zM1013.5 829.3h4.8v4.8h-4.8zM1050.1 829.3h4.8v4.8h-4.8zM1086.8 829.3h4.8v4.8h-4.8zM1123.5 829.3h4.8v4.8h-4.8zM1160.2 829.3h4.8v4.8h-4.8zM1196.8 829.3h4.8v4.8h-4.8zM1233.5 829.3h4.8v4.8h-4.8zM1270.2 829.3h4.8v4.8h-4.8zM1306.8 829.3h4.8v4.8h-4.8zM1343.5 829.3h4.8v4.8h-4.8zM1380.2 829.3h4.8v4.8h-4.8zM1416.9 829.3h4.8v4.8h-4.8zM1453.5 829.3h4.8v4.8h-4.8zM1490.2 829.3h4.8v4.8h-4.8zM1526.9 829.3h4.8v4.8h-4.8zM1563.6 829.3h4.8v4.8h-4.8zM1600.2 829.3h4.8v4.8h-4.8zM1636.9 829.3h4.8v4.8h-4.8zM1673.6 829.3h4.8v4.8h-4.8zM1710.2 829.3h4.8v4.8h-4.8zM1746.9 829.3h4.8v4.8h-4.8zM1783.6 829.3h4.8v4.8h-4.8zM1820.3 829.3h4.8v4.8h-4.8zM1856.9 829.3h4.8v4.8h-4.8zM1893.6 829.3h4.8v4.8h-4.8zM1930.3 829.3h4.8v4.8h-4.8zM1966.9 829.3h4.8v4.8h-4.8zM2003.6 829.3h4.8v4.8h-4.8zM78.1 847.7h4.8v4.8h-4.8zM114.8 847.7h4.8v4.8h-4.8zM151.4 847.7h4.8v4.8h-4.8zM188.1 847.7h4.8v4.8h-4.8zM224.8 847.7h4.8v4.8h-4.8zM261.5 847.7h4.8v4.8h-4.8zM298.1 847.7h4.8v4.8h-4.8zM334.8 847.7h4.8v4.8h-4.8zM371.5 847.7h4.8v4.8h-4.8zM408.1 847.7h4.8v4.8h-4.8zM444.8 847.7h4.8v4.8h-4.8zM481.5 847.7h4.8v4.8h-4.8zM518.2 847.7h4.8v4.8h-4.8zM554.8 847.7h4.8v4.8h-4.8zM591.5 847.7h4.8v4.8h-4.8zM628.2 847.7h4.8v4.8h-4.8zM664.9 847.7h4.8v4.8h-4.8zM701.5 847.7h4.8v4.8h-4.8zM738.2 847.7h4.8v4.8h-4.8zM774.9 847.7h4.8v4.8h-4.8zM811.5 847.7h4.8v4.8h-4.8zM848.2 847.7h4.8v4.8h-4.8zM884.9 847.7h4.8v4.8h-4.8zM921.6 847.7h4.8v4.8h-4.8zM958.2 847.7h4.8v4.8h-4.8zM994.9 847.7h4.8v4.8h-4.8zM1031.6 847.7h4.8v4.8h-4.8zM1068.2 847.7h4.8v4.8h-4.8zM1104.9 847.7h4.8v4.8h-4.8zM1141.6 847.7h4.8v4.8h-4.8zM1178.3 847.7h4.8v4.8h-4.8zM1214.9 847.7h4.8v4.8h-4.8zM1251.6 847.7h4.8v4.8h-4.8zM1288.3 847.7h4.8v4.8h-4.8zM1324.9 847.7h4.8v4.8h-4.8zM1361.6 847.7h4.8v4.8h-4.8zM1398.3 847.7h4.8v4.8h-4.8zM1435.0 847.7h4.8v4.8h-4.8zM1471.6 847.7h4.8v4.8h-4.8zM1508.3 847.7h4.8v4.8h-4.8zM1545.0 847.7h4.8v4.8h-4.8zM1581.7 847.7h4.8v4.8h-4.8zM1618.3 847.7h4.8v4.8h-4.8zM1655.0 847.7h4.8v4.8h-4.8zM1691.7 847.7h4.8v4.8h-4.8zM1728.3 847.7h4.8v4.8h-4.8zM1765.0 847.7h4.8v4.8h-4.8zM1801.7 847.7h4.8v4.8h-4.8zM1838.4 847.7h4.8v4.8h-4.8zM1875.0 847.7h4.8v4.8h-4.8zM1911.7 847.7h4.8v4.8h-4.8zM1948.4 847.7h4.8v4.8h-4.8zM1985.0 847.7h4.8v4.8h-4.8zM60.0 866.0h4.8v4.8h-4.8zM96.7 866.0h4.8v4.8h-4.8zM133.3 866.0h4.8v4.8h-4.8zM170.0 866.0h4.8v4.8h-4.8zM206.7 866.0h4.8v4.8h-4.8zM243.4 866.0h4.8v4.8h-4.8zM280.0 866.0h4.8v4.8h-4.8zM316.7 866.0h4.8v4.8h-4.8zM353.4 866.0h4.8v4.8h-4.8zM390.0 866.0h4.8v4.8h-4.8zM426.7 866.0h4.8v4.8h-4.8zM463.4 866.0h4.8v4.8h-4.8zM500.1 866.0h4.8v4.8h-4.8zM536.7 866.0h4.8v4.8h-4.8zM573.4 866.0h4.8v4.8h-4.8zM610.1 866.0h4.8v4.8h-4.8zM646.8 866.0h4.8v4.8h-4.8zM683.4 866.0h4.8v4.8h-4.8zM720.1 866.0h4.8v4.8h-4.8zM756.8 866.0h4.8v4.8h-4.8zM793.4 866.0h4.8v4.8h-4.8zM830.1 866.0h4.8v4.8h-4.8zM866.8 866.0h4.8v4.8h-4.8zM903.5 866.0h4.8v4.8h-4.8zM940.1 866.0h4.8v4.8h-4.8zM976.8 866.0h4.8v4.8h-4.8zM1013.5 866.0h4.8v4.8h-4.8zM1050.1 866.0h4.8v4.8h-4.8zM1086.8 866.0h4.8v4.8h-4.8zM1123.5 866.0h4.8v4.8h-4.8zM1160.2 866.0h4.8v4.8h-4.8zM1196.8 866.0h4.8v4.8h-4.8zM1233.5 866.0h4.8v4.8h-4.8zM1270.2 866.0h4.8v4.8h-4.8zM1306.8 866.0h4.8v4.8h-4.8zM1343.5 866.0h4.8v4.8h-4.8zM1380.2 866.0h4.8v4.8h-4.8zM1416.9 866.0h4.8v4.8h-4.8zM1453.5 866.0h4.8v4.8h-4.8zM1490.2 866.0h4.8v4.8h-4.8zM1526.9 866.0h4.8v4.8h-4.8zM1563.6 866.0h4.8v4.8h-4.8zM1600.2 866.0h4.8v4.8h-4.8zM1636.9 866.0h4.8v4.8h-4.8zM1673.6 866.0h4.8v4.8h-4.8zM1710.2 866.0h4.8v4.8h-4.8zM1746.9 866.0h4.8v4.8h-4.8zM1783.6 866.0h4.8v4.8h-4.8zM1820.3 866.0h4.8v4.8h-4.8zM1856.9 866.0h4.8v4.8h-4.8zM1893.6 866.0h4.8v4.8h-4.8zM1930.3 866.0h4.8v4.8h-4.8zM1966.9 866.0h4.8v4.8h-4.8zM2003.6 866.0h4.8v4.8h-4.8zM78.1 884.3h4.8v4.8h-4.8zM114.8 884.3h4.8v4.8h-4.8zM151.4 884.3h4.8v4.8h-4.8zM188.1 884.3h4.8v4.8h-4.8zM224.8 884.3h4.8v4.8h-4.8zM261.5 884.3h4.8v4.8h-4.8zM298.1 884.3h4.8v4.8h-4.8zM334.8 884.3h4.8v4.8h-4.8zM371.5 884.3h4.8v4.8h-4.8zM408.1 884.3h4.8v4.8h-4.8zM444.8 884.3h4.8v4.8h-4.8zM481.5 884.3h4.8v4.8h-4.8zM518.2 884.3h4.8v4.8h-4.8zM554.8 884.3h4.8v4.8h-4.8zM591.5 884.3h4.8v4.8h-4.8zM628.2 884.3h4.8v4.8h-4.8zM664.9 884.3h4.8v4.8h-4.8zM701.5 884.3h4.8v4.8h-4.8zM738.2 884.3h4.8v4.8h-4.8zM774.9 884.3h4.8v4.8h-4.8zM811.5 884.3h4.8v4.8h-4.8zM848.2 884.3h4.8v4.8h-4.8zM884.9 884.3h4.8v4.8h-4.8zM921.6 884.3h4.8v4.8h-4.8zM958.2 884.3h4.8v4.8h-4.8zM994.9 884.3h4.8v4.8h-4.8zM1031.6 884.3h4.8v4.8h-4.8zM1068.2 884.3h4.8v4.8h-4.8zM1104.9 884.3h4.8v4.8h-4.8zM1141.6 884.3h4.8v4.8h-4.8zM1178.3 884.3h4.8v4.8h-4.8zM1214.9 884.3h4.8v4.8h-4.8zM1251.6 884.3h4.8v4.8h-4.8zM1288.3 884.3h4.8v4.8h-4.8zM1324.9 884.3h4.8v4.8h-4.8zM1361.6 884.3h4.8v4.8h-4.8zM1398.3 884.3h4.8v4.8h-4.8zM1435.0 884.3h4.8v4.8h-4.8zM1471.6 884.3h4.8v4.8h-4.8zM1508.3 884.3h4.8v4.8h-4.8zM1545.0 884.3h4.8v4.8h-4.8zM1581.7 884.3h4.8v4.8h-4.8zM1618.3 884.3h4.8v4.8h-4.8zM1655.0 884.3h4.8v4.8h-4.8zM1691.7 884.3h4.8v4.8h-4.8zM1728.3 884.3h4.8v4.8h-4.8zM1765.0 884.3h4.8v4.8h-4.8zM1801.7 884.3h4.8v4.8h-4.8zM1838.4 884.3h4.8v4.8h-4.8zM1875.0 884.3h4.8v4.8h-4.8zM1911.7 884.3h4.8v4.8h-4.8zM1948.4 884.3h4.8v4.8h-4.8zM1985.0 884.3h4.8v4.8h-4.8zM60.0 902.7h4.8v4.8h-4.8zM96.7 902.7h4.8v4.8h-4.8zM133.3 902.7h4.8v4.8h-4.8zM170.0 902.7h4.8v4.8h-4.8zM206.7 902.7h4.8v4.8h-4.8zM243.4 902.7h4.8v4.8h-4.8zM280.0 902.7h4.8v4.8h-4.8zM316.7 902.7h4.8v4.8h-4.8zM353.4 902.7h4.8v4.8h-4.8zM390.0 902.7h4.8v4.8h-4.8zM426.7 902.7h4.8v4.8h-4.8zM463.4 902.7h4.8v4.8h-4.8zM500.1 902.7h4.8v4.8h-4.8zM536.7 902.7h4.8v4.8h-4.8zM573.4 902.7h4.8v4.8h-4.8zM610.1 902.7h4.8v4.8h-4.8zM646.8 902.7h4.8v4.8h-4.8zM683.4 902.7h4.8v4.8h-4.8zM720.1 902.7h4.8v4.8h-4.8zM756.8 902.7h4.8v4.8h-4.8zM793.4 902.7h4.8v4.8h-4.8zM830.1 902.7h4.8v4.8h-4.8zM866.8 902.7h4.8v4.8h-4.8zM903.5 902.7h4.8v4.8h-4.8zM940.1 902.7h4.8v4.8h-4.8zM976.8 902.7h4.8v4.8h-4.8zM1013.5 902.7h4.8v4.8h-4.8zM1050.1 902.7h4.8v4.8h-4.8zM1086.8 902.7h4.8v4.8h-4.8zM1123.5 902.7h4.8v4.8h-4.8zM1160.2 902.7h4.8v4.8h-4.8zM1196.8 902.7h4.8v4.8h-4.8zM1233.5 902.7h4.8v4.8h-4.8zM1270.2 902.7h4.8v4.8h-4.8zM1306.8 902.7h4.8v4.8h-4.8zM1343.5 902.7h4.8v4.8h-4.8zM1380.2 902.7h4.8v4.8h-4.8zM1416.9 902.7h4.8v4.8h-4.8zM1453.5 902.7h4.8v4.8h-4.8zM1490.2 902.7h4.8v4.8h-4.8zM1526.9 902.7h4.8v4.8h-4.8zM1563.6 902.7h4.8v4.8h-4.8zM1600.2 902.7h4.8v4.8h-4.8zM1636.9 902.7h4.8v4.8h-4.8zM1673.6 902.7h4.8v4.8h-4.8zM1710.2 902.7h4.8v4.8h-4.8zM1746.9 902.7h4.8v4.8h-4.8zM1783.6 902.7h4.8v4.8h-4.8zM1820.3 902.7h4.8v4.8h-4.8zM1856.9 902.7h4.8v4.8h-4.8zM1893.6 902.7h4.8v4.8h-4.8zM1930.3 902.7h4.8v4.8h-4.8zM1966.9 902.7h4.8v4.8h-4.8zM2003.6 902.7h4.8v4.8h-4.8zM78.1 921.0h4.8v4.8h-4.8zM114.8 921.0h4.8v4.8h-4.8zM151.4 921.0h4.8v4.8h-4.8zM188.1 921.0h4.8v4.8h-4.8zM224.8 921.0h4.8v4.8h-4.8zM261.5 921.0h4.8v4.8h-4.8zM298.1 921.0h4.8v4.8h-4.8zM334.8 921.0h4.8v4.8h-4.8zM371.5 921.0h4.8v4.8h-4.8zM408.1 921.0h4.8v4.8h-4.8zM444.8 921.0h4.8v4.8h-4.8zM481.5 921.0h4.8v4.8h-4.8zM518.2 921.0h4.8v4.8h-4.8zM554.8 921.0h4.8v4.8h-4.8zM591.5 921.0h4.8v4.8h-4.8zM628.2 921.0h4.8v4.8h-4.8zM664.9 921.0h4.8v4.8h-4.8zM701.5 921.0h4.8v4.8h-4.8zM738.2 921.0h4.8v4.8h-4.8zM774.9 921.0h4.8v4.8h-4.8zM811.5 921.0h4.8v4.8h-4.8zM848.2 921.0h4.8v4.8h-4.8zM884.9 921.0h4.8v4.8h-4.8zM921.6 921.0h4.8v4.8h-4.8zM958.2 921.0h4.8v4.8h-4.8zM994.9 921.0h4.8v4.8h-4.8zM1031.6 921.0h4.8v4.8h-4.8zM1068.2 921.0h4.8v4.8h-4.8zM1104.9 921.0h4.8v4.8h-4.8zM1141.6 921.0h4.8v4.8h-4.8zM1178.3 921.0h4.8v4.8h-4.8zM1214.9 921.0h4.8v4.8h-4.8zM1251.6 921.0h4.8v4.8h-4.8zM1288.3 921.0h4.8v4.8h-4.8zM1324.9 921.0h4.8v4.8h-4.8zM1361.6 921.0h4.8v4.8h-4.8zM1398.3 921.0h4.8v4.8h-4.8zM1435.0 921.0h4.8v4.8h-4.8zM1471.6 921.0h4.8v4.8h-4.8zM1508.3 921.0h4.8v4.8h-4.8zM1545.0 921.0h4.8v4.8h-4.8zM1581.7 921.0h4.8v4.8h-4.8zM1618.3 921.0h4.8v4.8h-4.8zM1655.0 921.0h4.8v4.8h-4.8zM1691.7 921.0h4.8v4.8h-4.8zM1728.3 921.0h4.8v4.8h-4.8zM1765.0 921.0h4.8v4.8h-4.8zM1801.7 921.0h4.8v4.8h-4.8zM1838.4 921.0h4.8v4.8h-4.8zM1875.0 921.0h4.8v4.8h-4.8zM1911.7 921.0h4.8v4.8h-4.8zM1948.4 921.0h4.8v4.8h-4.8zM1985.0 921.0h4.8v4.8h-4.8zM60.0 939.3h4.8v4.8h-4.8zM96.7 939.3h4.8v4.8h-4.8zM133.3 939.3h4.8v4.8h-4.8zM170.0 939.3h4.8v4.8h-4.8zM206.7 939.3h4.8v4.8h-4.8zM243.4 939.3h4.8v4.8h-4.8zM280.0 939.3h4.8v4.8h-4.8zM316.7 939.3h4.8v4.8h-4.8zM353.4 939.3h4.8v4.8h-4.8zM390.0 939.3h4.8v4.8h-4.8zM426.7 939.3h4.8v4.8h-4.8zM463.4 939.3h4.8v4.8h-4.8zM500.1 939.3h4.8v4.8h-4.8zM536.7 939.3h4.8v4.8h-4.8zM573.4 939.3h4.8v4.8h-4.8zM610.1 939.3h4.8v4.8h-4.8zM646.8 939.3h4.8v4.8h-4.8zM683.4 939.3h4.8v4.8h-4.8zM720.1 939.3h4.8v4.8h-4.8zM756.8 939.3h4.8v4.8h-4.8zM793.4 939.3h4.8v4.8h-4.8zM830.1 939.3h4.8v4.8h-4.8zM866.8 939.3h4.8v4.8h-4.8zM903.5 939.3h4.8v4.8h-4.8zM940.1 939.3h4.8v4.8h-4.8zM976.8 939.3h4.8v4.8h-4.8zM1013.5 939.3h4.8v4.8h-4.8zM1050.1 939.3h4.8v4.8h-4.8zM1086.8 939.3h4.8v4.8h-4.8zM1123.5 939.3h4.8v4.8h-4.8zM1160.2 939.3h4.8v4.8h-4.8zM1196.8 939.3h4.8v4.8h-4.8zM1233.5 939.3h4.8v4.8h-4.8zM1270.2 939.3h4.8v4.8h-4.8zM1306.8 939.3h4.8v4.8h-4.8zM1343.5 939.3h4.8v4.8h-4.8zM1380.2 939.3h4.8v4.8h-4.8zM1416.9 939.3h4.8v4.8h-4.8zM1453.5 939.3h4.8v4.8h-4.8zM1490.2 939.3h4.8v4.8h-4.8zM1526.9 939.3h4.8v4.8h-4.8zM1563.6 939.3h4.8v4.8h-4.8zM1600.2 939.3h4.8v4.8h-4.8zM1636.9 939.3h4.8v4.8h-4.8zM1673.6 939.3h4.8v4.8h-4.8zM1710.2 939.3h4.8v4.8h-4.8zM1746.9 939.3h4.8v4.8h-4.8zM1783.6 939.3h4.8v4.8h-4.8zM1820.3 939.3h4.8v4.8h-4.8zM1856.9 939.3h4.8v4.8h-4.8zM1893.6 939.3h4.8v4.8h-4.8zM1930.3 939.3h4.8v4.8h-4.8zM1966.9 939.3h4.8v4.8h-4.8zM2003.6 939.3h4.8v4.8h-4.8zM78.1 957.7h4.8v4.8h-4.8zM114.8 957.7h4.8v4.8h-4.8zM151.4 957.7h4.8v4.8h-4.8zM188.1 957.7h4.8v4.8h-4.8zM224.8 957.7h4.8v4.8h-4.8zM261.5 957.7h4.8v4.8h-4.8zM298.1 957.7h4.8v4.8h-4.8zM334.8 957.7h4.8v4.8h-4.8zM371.5 957.7h4.8v4.8h-4.8zM408.1 957.7h4.8v4.8h-4.8zM444.8 957.7h4.8v4.8h-4.8zM481.5 957.7h4.8v4.8h-4.8zM518.2 957.7h4.8v4.8h-4.8zM554.8 957.7h4.8v4.8h-4.8zM591.5 957.7h4.8v4.8h-4.8zM628.2 957.7h4.8v4.8h-4.8zM664.9 957.7h4.8v4.8h-4.8zM701.5 957.7h4.8v4.8h-4.8zM738.2 957.7h4.8v4.8h-4.8zM774.9 957.7h4.8v4.8h-4.8zM811.5 957.7h4.8v4.8h-4.8zM848.2 957.7h4.8v4.8h-4.8zM884.9 957.7h4.8v4.8h-4.8zM921.6 957.7h4.8v4.8h-4.8zM958.2 957.7h4.8v4.8h-4.8zM994.9 957.7h4.8v4.8h-4.8zM1031.6 957.7h4.8v4.8h-4.8zM1068.2 957.7h4.8v4.8h-4.8zM1104.9 957.7h4.8v4.8h-4.8zM1141.6 957.7h4.8v4.8h-4.8zM1178.3 957.7h4.8v4.8h-4.8zM1214.9 957.7h4.8v4.8h-4.8zM1251.6 957.7h4.8v4.8h-4.8zM1288.3 957.7h4.8v4.8h-4.8zM1324.9 957.7h4.8v4.8h-4.8zM1361.6 957.7h4.8v4.8h-4.8zM1398.3 957.7h4.8v4.8h-4.8zM1435.0 957.7h4.8v4.8h-4.8zM1471.6 957.7h4.8v4.8h-4.8zM1508.3 957.7h4.8v4.8h-4.8zM1545.0 957.7h4.8v4.8h-4.8zM1581.7 957.7h4.8v4.8h-4.8zM1618.3 957.7h4.8v4.8h-4.8zM1655.0 957.7h4.8v4.8h-4.8zM1691.7 957.7h4.8v4.8h-4.8zM1728.3 957.7h4.8v4.8h-4.8zM1765.0 957.7h4.8v4.8h-4.8zM1801.7 957.7h4.8v4.8h-4.8zM1838.4 957.7h4.8v4.8h-4.8zM1875.0 957.7h4.8v4.8h-4.8zM1911.7 957.7h4.8v4.8h-4.8zM1948.4 957.7h4.8v4.8h-4.8zM1985.0 957.7h4.8v4.8h-4.8zM60.0 976.0h4.8v4.8h-4.8zM96.7 976.0h4.8v4.8h-4.8zM133.3 976.0h4.8v4.8h-4.8zM170.0 976.0h4.8v4.8h-4.8zM206.7 976.0h4.8v4.8h-4.8zM243.4 976.0h4.8v4.8h-4.8zM280.0 976.0h4.8v4.8h-4.8zM316.7 976.0h4.8v4.8h-4.8zM353.4 976.0h4.8v4.8h-4.8zM390.0 976.0h4.8v4.8h-4.8zM426.7 976.0h4.8v4.8h-4.8zM463.4 976.0h4.8v4.8h-4.8zM500.1 976.0h4.8v4.8h-4.8zM536.7 976.0h4.8v4.8h-4.8zM573.4 976.0h4.8v4.8h-4.8zM610.1 976.0h4.8v4.8h-4.8zM646.8 976.0h4.8v4.8h-4.8zM683.4 976.0h4.8v4.8h-4.8zM720.1 976.0h4.8v4.8h-4.8zM756.8 976.0h4.8v4.8h-4.8zM793.4 976.0h4.8v4.8h-4.8zM830.1 976.0h4.8v4.8h-4.8zM866.8 976.0h4.8v4.8h-4.8zM903.5 976.0h4.8v4.8h-4.8zM940.1 976.0h4.8v4.8h-4.8zM976.8 976.0h4.8v4.8h-4.8zM1013.5 976.0h4.8v4.8h-4.8zM1050.1 976.0h4.8v4.8h-4.8zM1086.8 976.0h4.8v4.8h-4.8zM1123.5 976.0h4.8v4.8h-4.8zM1160.2 976.0h4.8v4.8h-4.8zM1196.8 976.0h4.8v4.8h-4.8zM1233.5 976.0h4.8v4.8h-4.8zM1270.2 976.0h4.8v4.8h-4.8zM1306.8 976.0h4.8v4.8h-4.8zM1343.5 976.0h4.8v4.8h-4.8zM1380.2 976.0h4.8v4.8h-4.8zM1416.9 976.0h4.8v4.8h-4.8zM1453.5 976.0h4.8v4.8h-4.8zM1490.2 976.0h4.8v4.8h-4.8zM1526.9 976.0h4.8v4.8h-4.8zM1563.6 976.0h4.8v4.8h-4.8zM1600.2 976.0h4.8v4.8h-4.8zM1636.9 976.0h4.8v4.8h-4.8zM1673.6 976.0h4.8v4.8h-4.8zM1710.2 976.0h4.8v4.8h-4.8zM1746.9 976.0h4.8v4.8h-4.8zM1783.6 976.0h4.8v4.8h-4.8zM1820.3 976.0h4.8v4.8h-4.8zM1856.9 976.0h4.8v4.8h-4.8zM1893.6 976.0h4.8v4.8h-4.8zM1930.3 976.0h4.8v4.8h-4.8zM1966.9 976.0h4.8v4.8h-4.8zM2003.6 976.0h4.8v4.8h-4.8zM78.1 994.4h4.8v4.8h-4.8zM114.8 994.4h4.8v4.8h-4.8zM151.4 994.4h4.8v4.8h-4.8zM188.1 994.4h4.8v4.8h-4.8zM224.8 994.4h4.8v4.8h-4.8zM261.5 994.4h4.8v4.8h-4.8zM298.1 994.4h4.8v4.8h-4.8zM334.8 994.4h4.8v4.8h-4.8zM371.5 994.4h4.8v4.8h-4.8zM408.1 994.4h4.8v4.8h-4.8zM444.8 994.4h4.8v4.8h-4.8zM481.5 994.4h4.8v4.8h-4.8zM518.2 994.4h4.8v4.8h-4.8zM554.8 994.4h4.8v4.8h-4.8zM591.5 994.4h4.8v4.8h-4.8zM628.2 994.4h4.8v4.8h-4.8zM664.9 994.4h4.8v4.8h-4.8zM701.5 994.4h4.8v4.8h-4.8zM738.2 994.4h4.8v4.8h-4.8zM774.9 994.4h4.8v4.8h-4.8zM811.5 994.4h4.8v4.8h-4.8zM848.2 994.4h4.8v4.8h-4.8zM884.9 994.4h4.8v4.8h-4.8zM921.6 994.4h4.8v4.8h-4.8zM958.2 994.4h4.8v4.8h-4.8zM994.9 994.4h4.8v4.8h-4.8zM1031.6 994.4h4.8v4.8h-4.8zM1068.2 994.4h4.8v4.8h-4.8zM1104.9 994.4h4.8v4.8h-4.8zM1141.6 994.4h4.8v4.8h-4.8zM1178.3 994.4h4.8v4.8h-4.8zM1214.9 994.4h4.8v4.8h-4.8zM1251.6 994.4h4.8v4.8h-4.8zM1288.3 994.4h4.8v4.8h-4.8zM1324.9 994.4h4.8v4.8h-4.8zM1361.6 994.4h4.8v4.8h-4.8zM1398.3 994.4h4.8v4.8h-4.8zM1435.0 994.4h4.8v4.8h-4.8zM1471.6 994.4h4.8v4.8h-4.8zM1508.3 994.4h4.8v4.8h-4.8zM1545.0 994.4h4.8v4.8h-4.8zM1581.7 994.4h4.8v4.8h-4.8zM1618.3 994.4h4.8v4.8h-4.8zM1655.0 994.4h4.8v4.8h-4.8zM1691.7 994.4h4.8v4.8h-4.8zM1728.3 994.4h4.8v4.8h-4.8zM1765.0 994.4h4.8v4.8h-4.8zM1801.7 994.4h4.8v4.8h-4.8zM1838.4 994.4h4.8v4.8h-4.8zM1875.0 994.4h4.8v4.8h-4.8zM1911.7 994.4h4.8v4.8h-4.8zM1948.4 994.4h4.8v4.8h-4.8zM1985.0 994.4h4.8v4.8h-4.8zM60.0 1012.7h4.8v4.8h-4.8zM96.7 1012.7h4.8v4.8h-4.8zM133.3 1012.7h4.8v4.8h-4.8zM170.0 1012.7h4.8v4.8h-4.8zM206.7 1012.7h4.8v4.8h-4.8zM243.4 1012.7h4.8v4.8h-4.8zM280.0 1012.7h4.8v4.8h-4.8zM316.7 1012.7h4.8v4.8h-4.8zM353.4 1012.7h4.8v4.8h-4.8zM390.0 1012.7h4.8v4.8h-4.8zM426.7 1012.7h4.8v4.8h-4.8zM463.4 1012.7h4.8v4.8h-4.8zM500.1 1012.7h4.8v4.8h-4.8zM536.7 1012.7h4.8v4.8h-4.8zM573.4 1012.7h4.8v4.8h-4.8zM610.1 1012.7h4.8v4.8h-4.8zM646.8 1012.7h4.8v4.8h-4.8zM683.4 1012.7h4.8v4.8h-4.8zM720.1 1012.7h4.8v4.8h-4.8zM756.8 1012.7h4.8v4.8h-4.8zM793.4 1012.7h4.8v4.8h-4.8zM830.1 1012.7h4.8v4.8h-4.8zM866.8 1012.7h4.8v4.8h-4.8zM903.5 1012.7h4.8v4.8h-4.8zM940.1 1012.7h4.8v4.8h-4.8zM976.8 1012.7h4.8v4.8h-4.8zM1013.5 1012.7h4.8v4.8h-4.8zM1050.1 1012.7h4.8v4.8h-4.8zM1086.8 1012.7h4.8v4.8h-4.8zM1123.5 1012.7h4.8v4.8h-4.8zM1160.2 1012.7h4.8v4.8h-4.8zM1196.8 1012.7h4.8v4.8h-4.8zM1233.5 1012.7h4.8v4.8h-4.8zM1270.2 1012.7h4.8v4.8h-4.8zM1306.8 1012.7h4.8v4.8h-4.8zM1343.5 1012.7h4.8v4.8h-4.8zM1380.2 1012.7h4.8v4.8h-4.8zM1416.9 1012.7h4.8v4.8h-4.8zM1453.5 1012.7h4.8v4.8h-4.8zM1490.2 1012.7h4.8v4.8h-4.8zM1526.9 1012.7h4.8v4.8h-4.8zM1563.6 1012.7h4.8v4.8h-4.8zM1600.2 1012.7h4.8v4.8h-4.8zM1636.9 1012.7h4.8v4.8h-4.8zM1673.6 1012.7h4.8v4.8h-4.8zM1710.2 1012.7h4.8v4.8h-4.8zM1746.9 1012.7h4.8v4.8h-4.8zM1783.6 1012.7h4.8v4.8h-4.8zM1820.3 1012.7h4.8v4.8h-4.8zM1856.9 1012.7h4.8v4.8h-4.8zM1893.6 1012.7h4.8v4.8h-4.8zM1930.3 1012.7h4.8v4.8h-4.8zM1966.9 1012.7h4.8v4.8h-4.8zM2003.6 1012.7h4.8v4.8h-4.8zM78.1 1031.0h4.8v4.8h-4.8zM114.8 1031.0h4.8v4.8h-4.8zM151.4 1031.0h4.8v4.8h-4.8zM188.1 1031.0h4.8v4.8h-4.8zM224.8 1031.0h4.8v4.8h-4.8zM261.5 1031.0h4.8v4.8h-4.8zM298.1 1031.0h4.8v4.8h-4.8zM334.8 1031.0h4.8v4.8h-4.8zM371.5 1031.0h4.8v4.8h-4.8zM408.1 1031.0h4.8v4.8h-4.8zM444.8 1031.0h4.8v4.8h-4.8zM481.5 1031.0h4.8v4.8h-4.8zM518.2 1031.0h4.8v4.8h-4.8zM554.8 1031.0h4.8v4.8h-4.8zM591.5 1031.0h4.8v4.8h-4.8zM628.2 1031.0h4.8v4.8h-4.8zM664.9 1031.0h4.8v4.8h-4.8zM701.5 1031.0h4.8v4.8h-4.8zM738.2 1031.0h4.8v4.8h-4.8zM774.9 1031.0h4.8v4.8h-4.8zM811.5 1031.0h4.8v4.8h-4.8zM848.2 1031.0h4.8v4.8h-4.8zM884.9 1031.0h4.8v4.8h-4.8zM921.6 1031.0h4.8v4.8h-4.8zM958.2 1031.0h4.8v4.8h-4.8zM994.9 1031.0h4.8v4.8h-4.8zM1031.6 1031.0h4.8v4.8h-4.8zM1068.2 1031.0h4.8v4.8h-4.8zM1104.9 1031.0h4.8v4.8h-4.8zM1141.6 1031.0h4.8v4.8h-4.8zM1178.3 1031.0h4.8v4.8h-4.8zM1214.9 1031.0h4.8v4.8h-4.8zM1251.6 1031.0h4.8v4.8h-4.8zM1288.3 1031.0h4.8v4.8h-4.8zM1324.9 1031.0h4.8v4.8h-4.8zM1361.6 1031.0h4.8v4.8h-4.8zM1398.3 1031.0h4.8v4.8h-4.8zM1435.0 1031.0h4.8v4.8h-4.8zM1471.6 1031.0h4.8v4.8h-4.8zM1508.3 1031.0h4.8v4.8h-4.8zM1545.0 1031.0h4.8v4.8h-4.8zM1581.7 1031.0h4.8v4.8h-4.8zM1618.3 1031.0h4.8v4.8h-4.8zM1655.0 1031.0h4.8v4.8h-4.8zM1691.7 1031.0h4.8v4.8h-4.8zM1728.3 1031.0h4.8v4.8h-4.8zM1765.0 1031.0h4.8v4.8h-4.8zM1801.7 1031.0h4.8v4.8h-4.8zM1838.4 1031.0h4.8v4.8h-4.8zM1875.0 1031.0h4.8v4.8h-4.8zM1911.7 1031.0h4.8v4.8h-4.8zM1948.4 1031.0h4.8v4.8h-4.8zM1985.0 1031.0h4.8v4.8h-4.8zM60.0 1049.4h4.8v4.8h-4.8zM96.7 1049.4h4.8v4.8h-4.8zM133.3 1049.4h4.8v4.8h-4.8zM170.0 1049.4h4.8v4.8h-4.8zM206.7 1049.4h4.8v4.8h-4.8zM243.4 1049.4h4.8v4.8h-4.8zM280.0 1049.4h4.8v4.8h-4.8zM316.7 1049.4h4.8v4.8h-4.8zM353.4 1049.4h4.8v4.8h-4.8zM390.0 1049.4h4.8v4.8h-4.8zM426.7 1049.4h4.8v4.8h-4.8zM463.4 1049.4h4.8v4.8h-4.8zM500.1 1049.4h4.8v4.8h-4.8zM536.7 1049.4h4.8v4.8h-4.8zM573.4 1049.4h4.8v4.8h-4.8zM610.1 1049.4h4.8v4.8h-4.8zM646.8 1049.4h4.8v4.8h-4.8zM683.4 1049.4h4.8v4.8h-4.8zM720.1 1049.4h4.8v4.8h-4.8zM756.8 1049.4h4.8v4.8h-4.8zM793.4 1049.4h4.8v4.8h-4.8zM830.1 1049.4h4.8v4.8h-4.8zM866.8 1049.4h4.8v4.8h-4.8zM903.5 1049.4h4.8v4.8h-4.8zM940.1 1049.4h4.8v4.8h-4.8zM976.8 1049.4h4.8v4.8h-4.8zM1013.5 1049.4h4.8v4.8h-4.8zM1050.1 1049.4h4.8v4.8h-4.8zM1086.8 1049.4h4.8v4.8h-4.8zM1123.5 1049.4h4.8v4.8h-4.8zM1160.2 1049.4h4.8v4.8h-4.8zM1196.8 1049.4h4.8v4.8h-4.8zM1233.5 1049.4h4.8v4.8h-4.8zM1270.2 1049.4h4.8v4.8h-4.8zM1306.8 1049.4h4.8v4.8h-4.8zM1343.5 1049.4h4.8v4.8h-4.8zM1380.2 1049.4h4.8v4.8h-4.8zM1416.9 1049.4h4.8v4.8h-4.8zM1453.5 1049.4h4.8v4.8h-4.8zM1490.2 1049.4h4.8v4.8h-4.8zM1526.9 1049.4h4.8v4.8h-4.8zM1563.6 1049.4h4.8v4.8h-4.8zM1600.2 1049.4h4.8v4.8h-4.8zM1636.9 1049.4h4.8v4.8h-4.8zM1673.6 1049.4h4.8v4.8h-4.8zM1710.2 1049.4h4.8v4.8h-4.8zM1746.9 1049.4h4.8v4.8h-4.8zM1783.6 1049.4h4.8v4.8h-4.8zM1820.3 1049.4h4.8v4.8h-4.8zM1856.9 1049.4h4.8v4.8h-4.8zM1893.6 1049.4h4.8v4.8h-4.8zM1930.3 1049.4h4.8v4.8h-4.8zM1966.9 1049.4h4.8v4.8h-4.8zM2003.6 1049.4h4.8v4.8h-4.8zM78.1 1067.7h4.8v4.8h-4.8zM114.8 1067.7h4.8v4.8h-4.8zM151.4 1067.7h4.8v4.8h-4.8zM188.1 1067.7h4.8v4.8h-4.8zM224.8 1067.7h4.8v4.8h-4.8zM261.5 1067.7h4.8v4.8h-4.8zM298.1 1067.7h4.8v4.8h-4.8zM334.8 1067.7h4.8v4.8h-4.8zM371.5 1067.7h4.8v4.8h-4.8zM408.1 1067.7h4.8v4.8h-4.8zM444.8 1067.7h4.8v4.8h-4.8zM481.5 1067.7h4.8v4.8h-4.8zM518.2 1067.7h4.8v4.8h-4.8zM554.8 1067.7h4.8v4.8h-4.8zM591.5 1067.7h4.8v4.8h-4.8zM628.2 1067.7h4.8v4.8h-4.8zM664.9 1067.7h4.8v4.8h-4.8zM701.5 1067.7h4.8v4.8h-4.8zM738.2 1067.7h4.8v4.8h-4.8zM774.9 1067.7h4.8v4.8h-4.8zM811.5 1067.7h4.8v4.8h-4.8zM848.2 1067.7h4.8v4.8h-4.8zM884.9 1067.7h4.8v4.8h-4.8zM921.6 1067.7h4.8v4.8h-4.8zM958.2 1067.7h4.8v4.8h-4.8zM994.9 1067.7h4.8v4.8h-4.8zM1031.6 1067.7h4.8v4.8h-4.8zM1068.2 1067.7h4.8v4.8h-4.8zM1104.9 1067.7h4.8v4.8h-4.8zM1141.6 1067.7h4.8v4.8h-4.8zM1178.3 1067.7h4.8v4.8h-4.8zM1214.9 1067.7h4.8v4.8h-4.8zM1251.6 1067.7h4.8v4.8h-4.8zM1288.3 1067.7h4.8v4.8h-4.8zM1324.9 1067.7h4.8v4.8h-4.8zM1361.6 1067.7h4.8v4.8h-4.8zM1398.3 1067.7h4.8v4.8h-4.8zM1435.0 1067.7h4.8v4.8h-4.8zM1471.6 1067.7h4.8v4.8h-4.8zM1508.3 1067.7h4.8v4.8h-4.8zM1545.0 1067.7h4.8v4.8h-4.8zM1581.7 1067.7h4.8v4.8h-4.8zM1618.3 1067.7h4.8v4.8h-4.8zM1655.0 1067.7h4.8v4.8h-4.8zM1691.7 1067.7h4.8v4.8h-4.8zM1728.3 1067.7h4.8v4.8h-4.8zM1765.0 1067.7h4.8v4.8h-4.8zM1801.7 1067.7h4.8v4.8h-4.8zM1838.4 1067.7h4.8v4.8h-4.8zM1875.0 1067.7h4.8v4.8h-4.8zM1911.7 1067.7h4.8v4.8h-4.8zM1948.4 1067.7h4.8v4.8h-4.8zM1985.0 1067.7h4.8v4.8h-4.8zM60.0 1086.0h4.8v4.8h-4.8zM96.7 1086.0h4.8v4.8h-4.8zM133.3 1086.0h4.8v4.8h-4.8zM170.0 1086.0h4.8v4.8h-4.8zM206.7 1086.0h4.8v4.8h-4.8zM243.4 1086.0h4.8v4.8h-4.8zM280.0 1086.0h4.8v4.8h-4.8zM316.7 1086.0h4.8v4.8h-4.8zM353.4 1086.0h4.8v4.8h-4.8zM390.0 1086.0h4.8v4.8h-4.8zM426.7 1086.0h4.8v4.8h-4.8zM463.4 1086.0h4.8v4.8h-4.8zM500.1 1086.0h4.8v4.8h-4.8zM536.7 1086.0h4.8v4.8h-4.8zM573.4 1086.0h4.8v4.8h-4.8zM610.1 1086.0h4.8v4.8h-4.8zM646.8 1086.0h4.8v4.8h-4.8zM683.4 1086.0h4.8v4.8h-4.8zM720.1 1086.0h4.8v4.8h-4.8zM756.8 1086.0h4.8v4.8h-4.8zM793.4 1086.0h4.8v4.8h-4.8zM830.1 1086.0h4.8v4.8h-4.8zM866.8 1086.0h4.8v4.8h-4.8zM903.5 1086.0h4.8v4.8h-4.8zM940.1 1086.0h4.8v4.8h-4.8zM976.8 1086.0h4.8v4.8h-4.8zM1013.5 1086.0h4.8v4.8h-4.8zM1050.1 1086.0h4.8v4.8h-4.8zM1086.8 1086.0h4.8v4.8h-4.8zM1123.5 1086.0h4.8v4.8h-4.8zM1160.2 1086.0h4.8v4.8h-4.8zM1196.8 1086.0h4.8v4.8h-4.8zM1233.5 1086.0h4.8v4.8h-4.8zM1270.2 1086.0h4.8v4.8h-4.8zM1306.8 1086.0h4.8v4.8h-4.8zM1343.5 1086.0h4.8v4.8h-4.8zM1380.2 1086.0h4.8v4.8h-4.8zM1416.9 1086.0h4.8v4.8h-4.8zM1453.5 1086.0h4.8v4.8h-4.8zM1490.2 1086.0h4.8v4.8h-4.8zM1526.9 1086.0h4.8v4.8h-4.8zM1563.6 1086.0h4.8v4.8h-4.8zM1600.2 1086.0h4.8v4.8h-4.8zM1636.9 1086.0h4.8v4.8h-4.8zM1673.6 1086.0h4.8v4.8h-4.8zM1710.2 1086.0h4.8v4.8h-4.8zM1746.9 1086.0h4.8v4.8h-4.8zM1783.6 1086.0h4.8v4.8h-4.8zM1820.3 1086.0h4.8v4.8h-4.8zM1856.9 1086.0h4.8v4.8h-4.8zM1893.6 1086.0h4.8v4.8h-4.8zM1930.3 1086.0h4.8v4.8h-4.8zM1966.9 1086.0h4.8v4.8h-4.8zM2003.6 1086.0h4.8v4.8h-4.8zM78.1 1104.4h4.8v4.8h-4.8zM114.8 1104.4h4.8v4.8h-4.8zM151.4 1104.4h4.8v4.8h-4.8zM188.1 1104.4h4.8v4.8h-4.8zM224.8 1104.4h4.8v4.8h-4.8zM261.5 1104.4h4.8v4.8h-4.8zM298.1 1104.4h4.8v4.8h-4.8zM334.8 1104.4h4.8v4.8h-4.8zM371.5 1104.4h4.8v4.8h-4.8zM408.1 1104.4h4.8v4.8h-4.8zM444.8 1104.4h4.8v4.8h-4.8zM481.5 1104.4h4.8v4.8h-4.8zM518.2 1104.4h4.8v4.8h-4.8zM554.8 1104.4h4.8v4.8h-4.8zM591.5 1104.4h4.8v4.8h-4.8zM628.2 1104.4h4.8v4.8h-4.8zM664.9 1104.4h4.8v4.8h-4.8zM701.5 1104.4h4.8v4.8h-4.8zM738.2 1104.4h4.8v4.8h-4.8zM774.9 1104.4h4.8v4.8h-4.8zM811.5 1104.4h4.8v4.8h-4.8zM848.2 1104.4h4.8v4.8h-4.8zM884.9 1104.4h4.8v4.8h-4.8zM921.6 1104.4h4.8v4.8h-4.8zM958.2 1104.4h4.8v4.8h-4.8zM994.9 1104.4h4.8v4.8h-4.8zM1031.6 1104.4h4.8v4.8h-4.8zM1068.2 1104.4h4.8v4.8h-4.8zM1104.9 1104.4h4.8v4.8h-4.8zM1141.6 1104.4h4.8v4.8h-4.8zM1178.3 1104.4h4.8v4.8h-4.8zM1214.9 1104.4h4.8v4.8h-4.8zM1251.6 1104.4h4.8v4.8h-4.8zM1288.3 1104.4h4.8v4.8h-4.8zM1324.9 1104.4h4.8v4.8h-4.8zM1361.6 1104.4h4.8v4.8h-4.8zM1398.3 1104.4h4.8v4.8h-4.8zM1435.0 1104.4h4.8v4.8h-4.8zM1471.6 1104.4h4.8v4.8h-4.8zM1508.3 1104.4h4.8v4.8h-4.8zM1545.0 1104.4h4.8v4.8h-4.8zM1581.7 1104.4h4.8v4.8h-4.8zM1618.3 1104.4h4.8v4.8h-4.8zM1655.0 1104.4h4.8v4.8h-4.8zM1691.7 1104.4h4.8v4.8h-4.8zM1728.3 1104.4h4.8v4.8h-4.8zM1765.0 1104.4h4.8v4.8h-4.8zM1801.7 1104.4h4.8v4.8h-4.8zM1838.4 1104.4h4.8v4.8h-4.8zM1875.0 1104.4h4.8v4.8h-4.8zM1911.7 1104.4h4.8v4.8h-4.8zM1948.4 1104.4h4.8v4.8h-4.8zM1985.0 1104.4h4.8v4.8h-4.8zM60.0 1122.7h4.8v4.8h-4.8zM96.7 1122.7h4.8v4.8h-4.8zM133.3 1122.7h4.8v4.8h-4.8zM170.0 1122.7h4.8v4.8h-4.8zM206.7 1122.7h4.8v4.8h-4.8zM243.4 1122.7h4.8v4.8h-4.8zM280.0 1122.7h4.8v4.8h-4.8zM316.7 1122.7h4.8v4.8h-4.8zM353.4 1122.7h4.8v4.8h-4.8zM390.0 1122.7h4.8v4.8h-4.8zM426.7 1122.7h4.8v4.8h-4.8zM463.4 1122.7h4.8v4.8h-4.8zM500.1 1122.7h4.8v4.8h-4.8zM536.7 1122.7h4.8v4.8h-4.8zM573.4 1122.7h4.8v4.8h-4.8zM610.1 1122.7h4.8v4.8h-4.8zM646.8 1122.7h4.8v4.8h-4.8zM683.4 1122.7h4.8v4.8h-4.8zM720.1 1122.7h4.8v4.8h-4.8zM756.8 1122.7h4.8v4.8h-4.8zM793.4 1122.7h4.8v4.8h-4.8zM830.1 1122.7h4.8v4.8h-4.8zM866.8 1122.7h4.8v4.8h-4.8zM903.5 1122.7h4.8v4.8h-4.8zM940.1 1122.7h4.8v4.8h-4.8zM976.8 1122.7h4.8v4.8h-4.8zM1013.5 1122.7h4.8v4.8h-4.8zM1050.1 1122.7h4.8v4.8h-4.8zM1086.8 1122.7h4.8v4.8h-4.8zM1123.5 1122.7h4.8v4.8h-4.8zM1160.2 1122.7h4.8v4.8h-4.8zM1196.8 1122.7h4.8v4.8h-4.8zM1233.5 1122.7h4.8v4.8h-4.8zM1270.2 1122.7h4.8v4.8h-4.8zM1306.8 1122.7h4.8v4.8h-4.8zM1343.5 1122.7h4.8v4.8h-4.8zM1380.2 1122.7h4.8v4.8h-4.8zM1416.9 1122.7h4.8v4.8h-4.8zM1453.5 1122.7h4.8v4.8h-4.8zM1490.2 1122.7h4.8v4.8h-4.8zM1526.9 1122.7h4.8v4.8h-4.8zM1563.6 1122.7h4.8v4.8h-4.8zM1600.2 1122.7h4.8v4.8h-4.8zM1636.9 1122.7h4.8v4.8h-4.8zM1673.6 1122.7h4.8v4.8h-4.8zM1710.2 1122.7h4.8v4.8h-4.8zM1746.9 1122.7h4.8v4.8h-4.8zM1783.6 1122.7h4.8v4.8h-4.8zM1820.3 1122.7h4.8v4.8h-4.8zM1856.9 1122.7h4.8v4.8h-4.8zM1893.6 1122.7h4.8v4.8h-4.8zM1930.3 1122.7h4.8v4.8h-4.8zM1966.9 1122.7h4.8v4.8h-4.8zM2003.6 1122.7h4.8v4.8h-4.8zM78.1 1141.0h4.8v4.8h-4.8zM114.8 1141.0h4.8v4.8h-4.8zM151.4 1141.0h4.8v4.8h-4.8zM188.1 1141.0h4.8v4.8h-4.8zM224.8 1141.0h4.8v4.8h-4.8zM261.5 1141.0h4.8v4.8h-4.8zM298.1 1141.0h4.8v4.8h-4.8zM334.8 1141.0h4.8v4.8h-4.8zM371.5 1141.0h4.8v4.8h-4.8zM408.1 1141.0h4.8v4.8h-4.8zM444.8 1141.0h4.8v4.8h-4.8zM481.5 1141.0h4.8v4.8h-4.8zM518.2 1141.0h4.8v4.8h-4.8zM554.8 1141.0h4.8v4.8h-4.8zM591.5 1141.0h4.8v4.8h-4.8zM628.2 1141.0h4.8v4.8h-4.8zM664.9 1141.0h4.8v4.8h-4.8zM701.5 1141.0h4.8v4.8h-4.8zM738.2 1141.0h4.8v4.8h-4.8zM774.9 1141.0h4.8v4.8h-4.8zM811.5 1141.0h4.8v4.8h-4.8zM848.2 1141.0h4.8v4.8h-4.8zM884.9 1141.0h4.8v4.8h-4.8zM921.6 1141.0h4.8v4.8h-4.8zM958.2 1141.0h4.8v4.8h-4.8zM994.9 1141.0h4.8v4.8h-4.8zM1031.6 1141.0h4.8v4.8h-4.8zM1068.2 1141.0h4.8v4.8h-4.8zM1104.9 1141.0h4.8v4.8h-4.8zM1141.6 1141.0h4.8v4.8h-4.8zM1178.3 1141.0h4.8v4.8h-4.8zM1214.9 1141.0h4.8v4.8h-4.8zM1251.6 1141.0h4.8v4.8h-4.8zM1288.3 1141.0h4.8v4.8h-4.8zM1324.9 1141.0h4.8v4.8h-4.8zM1361.6 1141.0h4.8v4.8h-4.8zM1398.3 1141.0h4.8v4.8h-4.8zM1435.0 1141.0h4.8v4.8h-4.8zM1471.6 1141.0h4.8v4.8h-4.8zM1508.3 1141.0h4.8v4.8h-4.8zM1545.0 1141.0h4.8v4.8h-4.8zM1581.7 1141.0h4.8v4.8h-4.8zM1618.3 1141.0h4.8v4.8h-4.8zM1655.0 1141.0h4.8v4.8h-4.8zM1691.7 1141.0h4.8v4.8h-4.8zM1728.3 1141.0h4.8v4.8h-4.8zM1765.0 1141.0h4.8v4.8h-4.8zM1801.7 1141.0h4.8v4.8h-4.8zM1838.4 1141.0h4.8v4.8h-4.8zM1875.0 1141.0h4.8v4.8h-4.8zM1911.7 1141.0h4.8v4.8h-4.8zM1948.4 1141.0h4.8v4.8h-4.8zM1985.0 1141.0h4.8v4.8h-4.8zM60.0 1159.4h4.8v4.8h-4.8zM96.7 1159.4h4.8v4.8h-4.8zM133.3 1159.4h4.8v4.8h-4.8zM170.0 1159.4h4.8v4.8h-4.8zM206.7 1159.4h4.8v4.8h-4.8zM243.4 1159.4h4.8v4.8h-4.8zM280.0 1159.4h4.8v4.8h-4.8zM316.7 1159.4h4.8v4.8h-4.8zM353.4 1159.4h4.8v4.8h-4.8zM390.0 1159.4h4.8v4.8h-4.8zM426.7 1159.4h4.8v4.8h-4.8zM463.4 1159.4h4.8v4.8h-4.8zM500.1 1159.4h4.8v4.8h-4.8zM536.7 1159.4h4.8v4.8h-4.8zM573.4 1159.4h4.8v4.8h-4.8zM610.1 1159.4h4.8v4.8h-4.8zM646.8 1159.4h4.8v4.8h-4.8zM683.4 1159.4h4.8v4.8h-4.8zM720.1 1159.4h4.8v4.8h-4.8zM756.8 1159.4h4.8v4.8h-4.8zM793.4 1159.4h4.8v4.8h-4.8zM830.1 1159.4h4.8v4.8h-4.8zM866.8 1159.4h4.8v4.8h-4.8zM903.5 1159.4h4.8v4.8h-4.8zM940.1 1159.4h4.8v4.8h-4.8zM976.8 1159.4h4.8v4.8h-4.8zM1013.5 1159.4h4.8v4.8h-4.8zM1050.1 1159.4h4.8v4.8h-4.8zM1086.8 1159.4h4.8v4.8h-4.8zM1123.5 1159.4h4.8v4.8h-4.8zM1160.2 1159.4h4.8v4.8h-4.8zM1196.8 1159.4h4.8v4.8h-4.8zM1233.5 1159.4h4.8v4.8h-4.8zM1270.2 1159.4h4.8v4.8h-4.8zM1306.8 1159.4h4.8v4.8h-4.8zM1343.5 1159.4h4.8v4.8h-4.8zM1380.2 1159.4h4.8v4.8h-4.8zM1416.9 1159.4h4.8v4.8h-4.8zM1453.5 1159.4h4.8v4.8h-4.8zM1490.2 1159.4h4.8v4.8h-4.8zM1526.9 1159.4h4.8v4.8h-4.8zM1563.6 1159.4h4.8v4.8h-4.8zM1600.2 1159.4h4.8v4.8h-4.8zM1636.9 1159.4h4.8v4.8h-4.8zM1673.6 1159.4h4.8v4.8h-4.8zM1710.2 1159.4h4.8v4.8h-4.8zM1746.9 1159.4h4.8v4.8h-4.8zM1783.6 1159.4h4.8v4.8h-4.8zM1820.3 1159.4h4.8v4.8h-4.8zM1856.9 1159.4h4.8v4.8h-4.8zM1893.6 1159.4h4.8v4.8h-4.8zM1930.3 1159.4h4.8v4.8h-4.8zM1966.9 1159.4h4.8v4.8h-4.8zM2003.6 1159.4h4.8v4.8h-4.8z"/>
<g stroke-linecap="round" fill="none">
<path stroke="#3d3d3d" stroke-width="2.9" d="M52.3 753.5V811.5M61.7 753.5V799.5M71.1 762.9V795.2M80.5 701.1V788.4M89.9 694.9V712.3M99.3 675.7V719.1M108.8 716.8V789M118.2 788V809.8M127.6 776.7V821.8M137 824.5V883.8M146.4 849.5V904.5M155.8 920.5V990.5M165.2 944.5V955.5M174.6 910.5V983M184 883.5V903.5M193.4 886.5V931.5M202.9 934.5V961.5M212.3 928.5V934M221.7 923.5V992.5M231.1 933.5V989.5M240.5 938V973.2M249.9 859.9V931.3M259.3 839.9V914.5M268.7 823.9V837.5M278.1 807.1V844.9M287.6 803.9V843.3M297 847.1V860.1M306.4 862.2V875.3M315.8 821.5V871.3M325.2 811.1V832.1M334.6 825.5V878.5M344 857.5V880.1M353.4 859.9V876.9M362.8 878.2V934.5M372.2 891.1V923.3M381.7 915.1V945.8M391.1 936.5V980.9M400.5 952.5V1020.5M409.9 957.9V993.8M419.3 1004.5V1012.9M428.7 988.5V1005.3M438.1 997.5V1021.3M447.5 1006.8V1045.8M456.9 1044.2V1083.2M466.3 1078.5V1086.2M475.8 1072.5V1077.8M485.2 1006.8V1058.8M494.6 983.9V1003M504 922.7V984.8M513.4 878.4V936M522.8 896.4V920.1M532.2 894.2V923.5M541.6 927.5V948M551 929.7V940.9M560.4 923.7V964.9M569.8 950.4V980.8M579.3 937.2V967M588.7 937.2V975.2M598.1 947.7V976.9M607.5 962.4V982.9M616.9 961.2V975.2M626.3 976V996M635.7 986.4V992.1M645.1 968.4V979M654.5 940.6V980.1M663.9 901.2V933.8M673.4 866.4V898.3M682.8 831.5V865.1M692.2 815.8V823.2M701.6 806.6V811.5M711 785.6V816M720.4 773.2V781.3M729.8 750.2V777.4M739.2 747.7V799M748.6 796.1V802.9M758 782.4V807.5M767.5 780.4V797.8M776.9 798.7V821.3M786.3 791.5V807.5M795.7 754.2V789.2M805.1 752.9V761M814.5 725.4V734.9M823.9 738.5V782M833.3 760.1V783.3M842.7 724.6V762.9M852.1 719.4V736.8M861.6 739.7V801.5M871 801.2V815.9M880.4 765.2V810M889.8 758.7V768.8M899.2 726.6V764.8M908.6 721.4V732.1M918 720V730.1M927.4 692.5V722.9M936.8 668.2V698.8M946.2 656.5V664M955.7 660.5V683M965.1 686V728.2M974.5 718.7V732.1M983.9 714.8V740M993.3 707V745.2M1002.7 733.2V750M1012.1 697.2V744.1M1021.5 698.6V714M1030.9 715.6V729.8M1040.4 684.2V710M1049.8 685.5V727M1059.2 735.2V749.3M1068.6 714.2V736.2M1078 720.2V723.1M1087.4 723.5V724.4M1096.8 715V720.5M1106.2 720.2V789.2M1115.6 766.7V790.5M1125 742.5V765M1134.5 753.6V782M1143.9 779.1V787.3M1153.3 789.6V800.4M1162.7 788.2V792.5M1172.1 787V795.1M1181.5 767.7V790.8M1190.9 754.7V767M1200.3 738.7V747.2M1209.7 704.2V738M1219.1 684.5V705.2M1228.5 682.2V724.3M1238 719.6V764.8M1247.4 745.6V819M1256.8 828.8V871.6M1266.2 794.5V828.9M1275.6 783.8V789.9M1285 785.2V811.3M1294.4 801.2V831.9M1303.8 783.8V819.8M1313.2 745.6V786.1M1322.6 718.1V731.1M1332.1 712.7V724.4M1341.5 712.4V722.5M1350.9 715.7V722.8M1360.3 688.2V733.6M1369.7 678V694M1379.1 592.6V682.8M1388.5 568.2V590.2M1397.9 574.2V588.3M1407.3 582.1V585.3M1416.8 506.1V572.9M1426.2 481.9V499.1M1435.6 461.1V494.2M1445 447.3V467.2M1454.4 475.1V505.9M1463.8 461.1V474.2M1473.2 425.9V481.1M1482.6 421.1V436.9M1492 445.9V476.2M1501.4 469.4V494.9M1510.8 495.1V514.9M1520.3 506.8V592.3M1529.7 582.1V623.8M1539.1 610.2V698.9M1548.5 690.5V720.6M1557.9 683V704.5M1567.3 652.8V699.8M1576.7 693.4V768.8M1586.1 716.1V781.1M1595.5 735.9V797.1M1605 705.7V816M1614.4 691.5V724.4M1623.8 673.5V708.3M1633.2 596.5V605M1642.6 607.8V631.8M1652 619.6V631.8M1661.4 615.7V642.8M1670.8 598.7V625.8M1680.2 608.5V621.8M1689.6 564.6V612.8M1699 564.6V583.9M1708.5 551.5V591.8M1717.9 547.6V553.1M1727.3 535.2V542.6M1736.7 526.7V572.1M1746.1 561.4V563.6M1755.5 523.4V560.3M1764.9 505.6V543.3M1774.3 474.2V501.9M1783.7 454.2V502.7M1793.2 430.2V452.2M1802.6 393.4V403.4M1812 375.8V393.8M1821.4 368.6V386.6M1830.8 375.8V449.8M1840.2 430.2V443.4M1849.6 412.6V439.4M1859 339.8V397.8M1868.4 319.8V372.2M1877.8 355.8V418.6M1887.2 429.4V467.6M1896.7 425.4V453.9M1906.1 387.6V428.6M1915.5 387.6V399.8M1924.9 366.6V382.7M1934.3 339.8V349.9M1943.7 357.4V387.9M1953.1 344.4V376.8M1962.5 354.1V423.9M1971.9 428.8V452.8M1981.3 434.1V463.9M1990.8 476.1V577.6M2000.2 586.2V623.9"/>
<path stroke="#5b5b5b" stroke-width="3.8" d="M52.6 763.9V768.1M62 764.5V799.1M71.4 763.3V789.1M80.8 701.5V769.4M90.2 699.6V704.5M99.6 693.4V718.7M109.1 717.2V788.6M118.5 799.9V809.1M127.9 801.9V821.1M137.3 836.9V883.1M146.7 896.9V904.1M156.1 920.9V945.1M165.5 944.9V948.1M174.9 910.9V949.1M184.3 896.9V903.1M193.8 886.9V931.1M203.2 948.9V949.1M212.6 928.9V933.6M222 923.9V981.1M231.4 933.9V989.1M240.8 938.4V942.1M250.2 877.9V930.9M259.6 840.3V875.7M269 832.9V837.1M278.4 807.5V822.9M287.9 809.9V842.9M297.3 855.9V859.7M306.7 862.7V869.3M316.1 821.9V856.5M325.5 815.5V823.7M334.9 825.9V878.1M344.3 867.5V879.7M353.7 876.3V876.5M363.1 878.7V934.1M372.5 903.5V922.9M382 915.5V945.3M391.4 949.9V980.5M400.8 952.9V975.9M410.2 958.3V993.4M419.6 1004.5V1004.5M429 995.7V1004.9M438.4 997.9V1020.9M447.8 1027.8V1045.4M457.2 1044.6V1079.7M466.6 1078.9V1085.8M476.1 1072.5V1072.5M485.5 1007.2V1058.3M494.9 984.3V1002.6M504.3 923.1V979.1M513.7 905.5V925.1M523.1 908.9V919.7M532.5 915.9V923.1M541.9 927.9V947.6M551.3 930.1V940.5M560.7 924.1V964.5M570.1 960.1V980.3M579.6 962.3V966.6M589 937.7V960.6M598.4 948.1V976.5M607.8 962.8V982.5M617.2 961.7V974.8M626.6 976.4V982.5M636 986V986M645.4 979.1V979.1M654.8 941V979.7M664.2 901.7V933.4M673.7 866.8V880.5M683.1 831.9V864.7M692.5 818.9V822.8M701.9 810.9V811.1M711.3 786V815.6M720.7 773.6V775.7M730.1 750.7V777M739.5 748.1V798.6M748.9 796.5V802.5M758.3 782.8V789.4M767.8 780.8V795.3M777.2 806.9V815.6M786.6 795.2V807.1M796 754.6V788.8M805.4 752.7V752.7M814.8 735.4V735.4M824.2 738.9V781.6M833.6 760.5V782.9M843 725V762.5M852.4 733.5V736.3M861.9 740.1V801.1M871.3 807.2V807.2M880.7 765.6V797.1M890.1 759.1V759.1M899.5 727V761.1M908.9 721.8V731.7M918.3 723.7V729.7M927.7 692.9V722.5M937.1 668.7V697.7M946.5 661.5V663.6M956 660.9V682.6M965.4 686.4V727.8M974.8 726.9V731.7M984.2 715.2V739.6M993.6 707.4V744.8M1003 733.7V745.6M1012.4 697.7V743.7M1021.8 699V703.7M1031.2 716V724.1M1040.7 684.6V709.6M1050.1 685.9V726.6M1059.5 735.7V748.9M1068.9 720.6V728M1078.3 720.6V722.7M1087.7 723.9V724M1097.1 715.4V720.1M1106.5 720.6V788.8M1115.9 767.1V790.1M1125.3 742.9V755.4M1134.8 754V781.6M1144.2 780.9V786.9M1153.6 790V790.8M1163 792.9V792.9M1172.4 787.4V794.7M1181.8 772.7V790.3M1191.2 755.1V766.6M1200.6 739.1V744.5M1210 704.7V737.6M1219.4 691V704.8M1228.8 682.6V723.9M1238.3 720V764.3M1247.7 757.4V818.6M1257.1 832.9V871.2M1266.5 794.9V828.5M1275.9 784.2V789.5M1285.3 785.7V795.6M1294.7 801.7V831.5M1304.1 784.2V819.3M1313.5 746V785.7M1322.9 718.5V730.7M1332.4 713.1V724M1341.8 720.6V722.1M1351.2 716.1V718.8M1360.6 688.6V714.2M1370 678.4V680.8M1379.4 593V682.4M1388.8 568.7V585.2M1398.2 574.6V587.9M1407.6 582.5V584.9M1417 506.5V572.5M1426.5 482.4V498.6M1435.9 475.5V485.5M1445.3 447.8V466.8M1454.7 475.5V482.7M1464.1 461.6V467.5M1473.5 431.9V480.6M1482.9 421.6V436.4M1492.3 446.4V475.8M1501.7 469.9V494.4M1511.1 495.5V506.9M1520.6 507.2V591.9M1530 582.5V623.4M1539.4 610.6V683.4M1548.8 690.9V702.3M1558.2 683.4V689.1M1567.6 663.5V699.4M1577 729.7V768.4M1586.4 748.6V780.7M1595.8 736.3V796.7M1605.2 706.1V815.6M1614.7 691.9V698.5M1624.1 673.9V700.4M1633.5 596.9V604.6M1642.9 616.7V631.3M1652.3 623.9V631.3M1661.7 626.6V630.6M1671.1 616.7V625.4M1680.5 608.9V621.4M1689.9 565V612.3M1699.3 565V573M1708.8 551.9V591.3M1718.2 548V552.7M1727.6 541.5V542.2M1737 527.1V571.7M1746.4 561.8V563.2M1755.8 523.8V559.9M1765.2 506.1V524.6M1774.6 483.5V501.5M1784 463.5V502.2M1793.5 430.7V451.7M1802.9 393.9V402.9M1812.3 376.3V378.1M1821.7 369.1V386.1M1831.1 376.3V449.3M1840.5 430.7V442.9M1849.9 413.1V438.9M1859.3 340.3V397.3M1868.7 320.3V371.7M1878.1 356.3V418.1M1887.5 429.9V467.1M1897 425.9V453.5M1906.4 388V428.1M1915.8 391.3V392.1M1925.2 367.1V382.2M1934.6 342.9V349.5M1944 357.9V387.5M1953.4 344.9V376.3M1962.8 354.6V423.5M1972.2 429.2V445.1M1981.6 434.5V463.4M1991.1 476.6V577.2M2000.5 586.6V623.5"/>
</g>
<g stroke="#7030a0" stroke-width="6.8" fill="none" stroke-linecap="butt">
<path d="M81.6 671.3H2007.8"/>
<path d="M438.9 1099L2033.1 665.7"/>
<path d="M1836.3 305.6L1998.4 353.7"/>
</g>
<text x="1083.5" y="85" font-size="55" font-weight="bold" fill="#595959" text-anchor="middle">Defensives outrunning offensives since early</text>
<text x="1083.5" y="146" font-size="55" font-weight="bold" fill="#595959" text-anchor="middle">Nov and most definitely since early this year</text>
<text x="1898" y="39" font-size="41" font-weight="bold" fill="#1f1d17">hedgopia.com</text>
<g font-size="41.5" fill="#595959" text-anchor="end">
<text x="2116" y="227.3">1.7</text>
<text x="2116" y="362.5">1.6</text>
<text x="2116" y="498.9">1.4</text>
<text x="2116" y="634.7">1.3</text>
<text x="2116" y="771">1.2</text>
<text x="2116" y="907.3">1.0</text>
<text x="2116" y="1043.6">0.9</text>
<text x="2116" y="1179.2">0.8</text>
</g>
<g font-size="41.5" fill="#595959">
<text x="-7" y="1229">Feb-22</text>
<text x="232" y="1229">Aug-22</text>
<text x="484" y="1229">Feb-23</text>
<text x="723" y="1229">Aug-23</text>
<text x="974" y="1229">Feb-24</text>
<text x="1214" y="1229">Aug-24</text>
<text x="1467" y="1229">Feb-25</text>
<text x="1705" y="1229">Aug-25</text>
<text x="1956" y="1229">Feb-26</text>
<text x="57" y="1316" font-size="41.8">Ratio of SPDR ETFs -- XLY vs XLP, weekly</text>
</g>
<text x="1779" y="1343" font-size="32.2" fill="#000">Source: Investing.com</text>
<rect x="0" y="0" width="2163" height="3.5" fill="#c5d7ef"/>
<rect x="0" y="0" width="3" height="1375" fill="#c5d7ef"/>
<rect x="2155" y="0" width="4" height="1375" fill="#c5d7ef"/>
<rect x="0" y="1367" width="2163" height="4" fill="#c5d7ef"/>
<rect x="2159" y="0" width="4" height="1375" fill="#000"/>
<rect x="0" y="1371" width="2163" height="4" fill="#000"/>
</svg>
</body></html>
